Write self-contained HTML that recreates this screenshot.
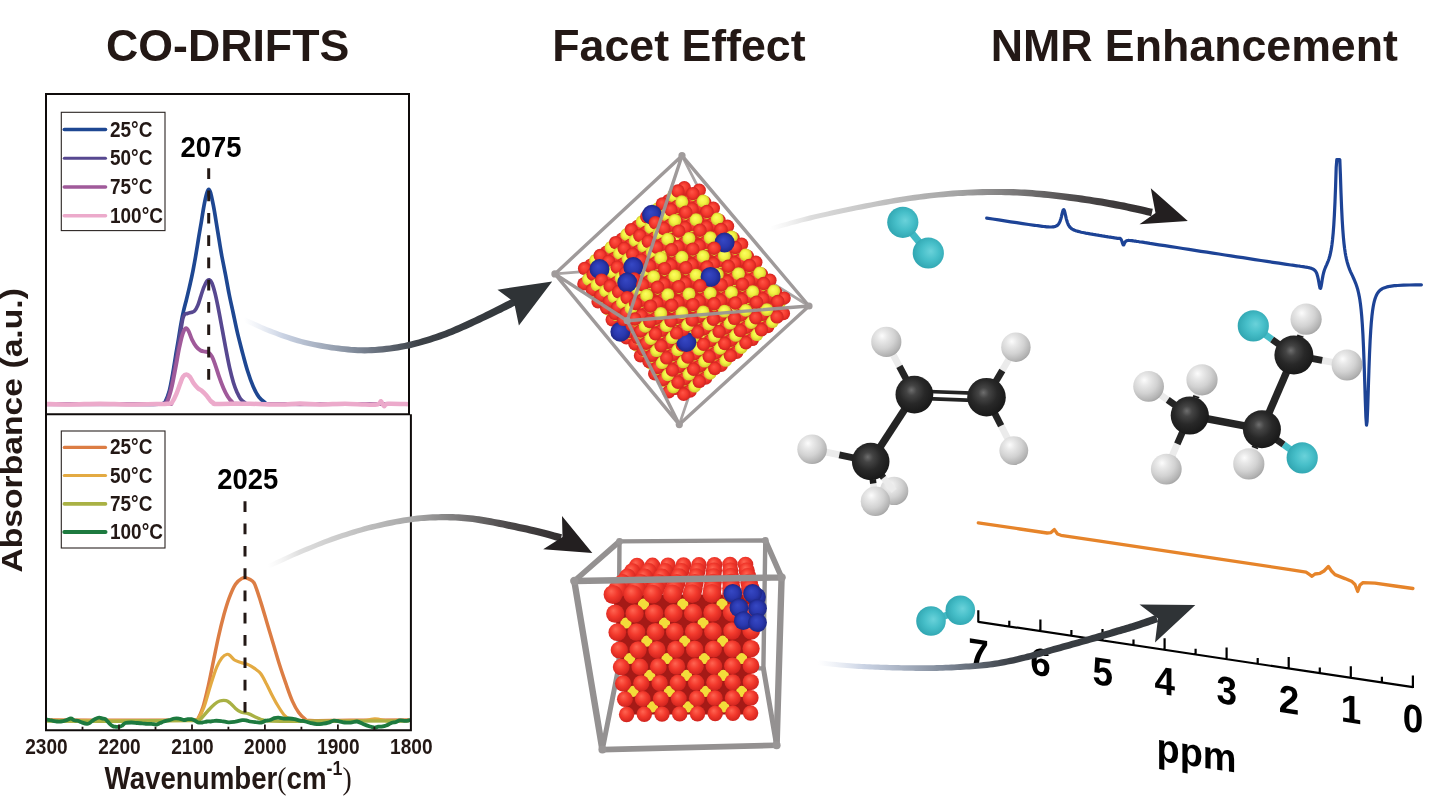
<!DOCTYPE html>
<html lang="en"><head><meta charset="utf-8"><title>CO-DRIFTS / Facet Effect / NMR Enhancement</title>
<style>html,body{margin:0;padding:0;background:#fff;overflow:hidden}svg{display:block}text{font-family:"Liberation Sans",sans-serif;font-weight:bold;fill:#231815}.sf{font-family:"Liberation Serif",serif}</style></head>
<body>
<svg width="1430" height="807" viewBox="0 0 1430 807">
<defs>
<linearGradient id="ga1" gradientUnits="userSpaceOnUse" x1="244" y1="319.5" x2="552.2" y2="281.4"><stop offset="0" stop-color="#d4dcec" stop-opacity="0"/><stop offset="0.12" stop-color="#c3cde0" stop-opacity="0.9"/><stop offset="0.35" stop-color="#7d8796" stop-opacity="1"/><stop offset="0.55" stop-color="#3c4147" stop-opacity="1"/><stop offset="1" stop-color="#2f3336" stop-opacity="1"/></linearGradient>
<linearGradient id="ga2" gradientUnits="userSpaceOnUse" x1="769.6" y1="229" x2="1187.8" y2="221"><stop offset="0" stop-color="#e9e9e9" stop-opacity="0"/><stop offset="0.1" stop-color="#dcdcdc" stop-opacity="1"/><stop offset="0.45" stop-color="#a4a4a4" stop-opacity="1"/><stop offset="0.75" stop-color="#4a4748" stop-opacity="1"/><stop offset="1" stop-color="#231f20" stop-opacity="1"/></linearGradient>
<linearGradient id="ga3" gradientUnits="userSpaceOnUse" x1="267.6" y1="566.8" x2="592.3" y2="553"><stop offset="0" stop-color="#ededed" stop-opacity="0"/><stop offset="0.1" stop-color="#dedede" stop-opacity="1"/><stop offset="0.45" stop-color="#a8a8a8" stop-opacity="1"/><stop offset="0.75" stop-color="#4a4748" stop-opacity="1"/><stop offset="1" stop-color="#231f20" stop-opacity="1"/></linearGradient>
<linearGradient id="ga4" gradientUnits="userSpaceOnUse" x1="818" y1="662.8" x2="1195.3" y2="605"><stop offset="0" stop-color="#d4dcec" stop-opacity="0"/><stop offset="0.12" stop-color="#c3cde0" stop-opacity="0.9"/><stop offset="0.33" stop-color="#7d8796" stop-opacity="1"/><stop offset="0.5" stop-color="#3c4147" stop-opacity="1"/><stop offset="1" stop-color="#2f3336" stop-opacity="1"/></linearGradient>
<radialGradient id="gR" cx="0.5" cy="0.5" r="0.5" fx="0.42" fy="0.36"><stop offset="0" stop-color="#ff5546"/><stop offset="0.6" stop-color="#f3372c"/><stop offset="1" stop-color="#d0231f"/></radialGradient>
<radialGradient id="gY" cx="0.5" cy="0.5" r="0.5" fx="0.42" fy="0.36"><stop offset="0" stop-color="#fbff62"/><stop offset="0.6" stop-color="#f2f140"/><stop offset="1" stop-color="#cfc72c"/></radialGradient>
<radialGradient id="gB" cx="0.5" cy="0.5" r="0.5" fx="0.42" fy="0.36"><stop offset="0" stop-color="#3648c4"/><stop offset="0.6" stop-color="#2a38ae"/><stop offset="1" stop-color="#1d2788"/></radialGradient>
<circle id="aR" r="6.7" fill="url(#gR)"/><circle id="aY" r="6.4" fill="url(#gY)"/><circle id="aB" r="10" fill="url(#gB)"/>
<radialGradient id="gR2" cx="0.46" cy="0.42" r="0.6" fx="0.4" fy="0.32"><stop offset="0" stop-color="#ff6552"/><stop offset="0.5" stop-color="#f33a2d"/><stop offset="1" stop-color="#cf221d"/></radialGradient>
<circle id="cR" r="10" fill="url(#gR2)"/><circle id="cB" r="9.4" fill="url(#gB)"/>
<radialGradient id="gC" cx="0.45" cy="0.42" r="0.62" fx="0.42" fy="0.38"><stop offset="0" stop-color="#6e6e6e"/><stop offset="0.22" stop-color="#444444"/><stop offset="0.55" stop-color="#282828"/><stop offset="1" stop-color="#161616"/></radialGradient>
<radialGradient id="gH" cx="0.38" cy="0.34" r="0.75" fx="0.36" fy="0.3"><stop offset="0" stop-color="#fcfcfc"/><stop offset="0.22" stop-color="#e9e9e9"/><stop offset="0.55" stop-color="#d2d2d2"/><stop offset="0.85" stop-color="#b2b2b2"/><stop offset="1" stop-color="#989898"/></radialGradient>
<radialGradient id="gT" cx="0.54" cy="0.48" r="0.62" fx="0.58" fy="0.44"><stop offset="0" stop-color="#6ad2da"/><stop offset="0.45" stop-color="#47bfc9"/><stop offset="1" stop-color="#2a9fab"/></radialGradient>
</defs>
<rect width="1430" height="807" fill="#fff"/>
<g id="plots">
<path d="M46 404.2C55 404.2 82.7 404 100 404C117.3 404 140 404.3 150 404.3C160 404.3 157.8 404.2 160 404.1C162.2 404 162.2 403.7 163 403.4C163.8 403.1 163.9 404.4 165 402.3C166.1 400.2 168 395.8 169.3 391C170.6 386.2 171.7 379.5 172.7 373.8C173.7 368.1 174.6 362.4 175.5 356.7C176.4 351 177.5 345.3 178.4 339.6C179.3 333.9 180.3 327.2 181.2 322.5C182 317.8 182.6 314.9 183.5 311.1C184.4 307.3 185.3 304 186.4 299.7C187.5 295.4 188.7 290.2 189.8 285.5C190.9 280.8 192 275.9 192.9 271.2C193.8 266.4 194.6 262.2 195.5 257C196.4 251.8 197.4 245.6 198.3 239.9C199.2 234.2 200.2 228.5 201.2 222.8C202.1 217.1 203.1 210.6 204 205.7C204.9 200.8 205.9 196.2 206.7 193.5C207.5 190.8 207.9 189.5 208.6 189.4C209.2 189.3 209.8 190.1 210.6 192.8C211.4 195.5 212.4 200.7 213.4 205.7C214.4 210.7 215.4 217.1 216.3 222.8C217.2 228.5 218.2 234.2 219.1 239.9C220 245.6 220.9 251.3 222 257C223.1 262.7 224.2 267.9 225.4 274.1C226.6 280.3 227.8 287.4 229.1 294C230.4 300.6 232 307.4 233.4 314C234.8 320.6 236.1 327.2 237.7 333.9C239.3 340.5 241.2 347.7 242.8 353.9C244.5 360.1 245.8 365.5 247.6 371C249.3 376.5 251.4 382.3 253.3 386.7C255.2 391.1 257.1 394.6 259 397.2C260.9 399.8 263 401.2 264.7 402.3C266.4 403.4 263.1 403.5 269 403.8C274.9 404.1 286.5 404.2 300 404.2C313.5 404.2 331.8 403.8 350 403.8C368.2 403.8 399.2 404.1 409 404.1" fill="none" stroke="#1e4792" stroke-width="3.7" stroke-linejoin="round" stroke-linecap="butt"/>
<path d="M46 404.2C65 404.2 140.4 404.2 160 404.1C179.6 404 162.5 403.7 163.5 403.4C164.5 403.1 164.6 404.9 165.8 402.3C167 399.8 169.3 393.8 170.7 388.1C172.1 382.4 173.2 374.8 174.4 368.1C175.6 361.5 176.8 354.4 177.8 348.2C178.9 342 179.8 336.1 180.7 331.1C181.5 326.1 182.2 321.1 182.9 318.3C183.6 315.5 184.1 315 184.9 314.2C185.7 313.4 186.6 313.7 187.5 313.4C188.4 313.1 189.4 313 190.6 312.6C191.8 312.2 193.3 312.2 194.5 311C195.7 309.8 196.8 307.8 197.8 305.4C198.8 303 199.6 300 200.6 296.9C201.6 293.8 202.9 289.5 204 286.9C205.1 284.3 206 282.4 206.9 281.2C207.8 280 208.3 279.5 209.2 279.8C210 280.1 211.1 281.1 212 283.2C212.9 285.3 213.8 288.4 214.9 292.6C216 296.8 217.1 302.4 218.3 308.3C219.5 314.2 220.8 321.6 222 328.2C223.2 334.8 224.4 341.5 225.7 348.2C227 354.9 228.4 362.4 229.7 368.1C231 373.8 232.2 378.3 233.4 382.4C234.6 386.4 235.9 389.6 237.1 392.4C238.3 395.1 239.2 397.2 240.5 398.9C241.8 400.6 243.4 401.8 244.8 402.6C246.2 403.4 239.8 403.6 249 403.9C258.2 404.2 273.3 404.2 300 404.2C326.7 404.2 390.8 404.1 409 404.1" fill="none" stroke="#574890" stroke-width="3.7" stroke-linejoin="round" stroke-linecap="butt"/>
<path d="M46 404.2C65.3 404.2 142.2 404.2 162 404.1C181.8 404 164.2 403.7 165 403.4C165.8 403.1 165.9 404.9 167 402.3C168.1 399.8 170.1 393.8 171.5 388.1C172.9 382.4 174.2 374.8 175.5 368.1C176.8 361.5 178 353.9 179.2 348.2C180.4 342.5 181.6 337.2 182.7 333.9C183.8 330.6 184.8 328.7 185.8 328.2C186.8 327.7 187.6 329.2 188.6 331.1C189.6 333 190.7 337 192 339.6C193.3 342.2 194.9 345 196.3 346.8C197.7 348.6 199.2 349.7 200.6 350.5C202 351.3 203.6 351.3 204.9 351.6C206.2 351.9 207.4 351.6 208.6 352.5C209.8 353.4 210.9 354.6 212 356.7C213.1 358.8 214.2 362 215.4 365.3C216.6 368.6 217.8 372.9 219.1 376.7C220.4 380.5 222 384.8 223.4 388.1C224.8 391.4 226.3 394.3 227.7 396.6C229.1 398.9 230.6 400.6 232 401.8C233.4 403 224.7 403.4 236 403.8C247.3 404.2 271.2 404.1 300 404.2C328.8 404.2 390.8 404.1 409 404.1" fill="none" stroke="#a05a9a" stroke-width="3.9" stroke-linejoin="round" stroke-linecap="butt"/>
<path d="M46 403.9C50 404 61 404.4 70 404.4C79 404.4 90 403.7 100 403.7C110 403.7 119.2 404.5 130 404.5C140.8 404.5 158.4 404 165 403.9C171.6 403.8 168.3 403.9 169.5 403.6C170.7 403.3 170.9 403.9 172.1 402.3C173.2 400.7 175.1 396.9 176.4 393.8C177.7 390.7 179 386.7 180.1 383.8C181.2 380.9 181.9 378.3 183 376.7C184.1 375.1 185.3 374.4 186.4 374.4C187.5 374.4 188.6 375.3 189.8 376.7C191 378.1 192.2 381.1 193.5 383C194.8 384.9 196.4 386.8 197.8 388.1C199.2 389.4 200.6 389.8 202 391C203.4 392.2 204.9 393.6 206.3 395.2C207.7 396.8 209.4 399.6 210.6 400.9C211.8 402.2 212.3 402.4 213.4 402.9C214.5 403.4 210.9 403.8 217 403.9C223.1 404 239.5 403.7 250 403.8C260.5 403.9 271.7 404.7 280 404.6C288.3 404.6 293.3 403.5 300 403.5C306.7 403.5 312.5 404.4 320 404.4C327.5 404.4 337.5 403.7 345 403.7C352.5 403.7 359.5 404.5 365 404.6C370.5 404.7 375.3 404.8 378 404.2C380.7 403.6 380 400.9 381 401.2C382 401.5 382.8 405.8 384 406.2C385.2 406.6 383.8 404 388 403.7C392.2 403.4 405.5 404.1 409 404.2" fill="none" stroke="#ecaacb" stroke-width="4.5" stroke-linejoin="round" stroke-linecap="butt"/>
<path d="M46 720C58.3 720 96 720.3 120 720.3C144 720.3 177.5 720.2 190 720.2C202.5 720.2 193.7 720.1 195 720C196.3 719.9 196.3 721.7 197.6 719.6C198.9 717.5 201.1 713 202.9 707.4C204.7 701.8 206.4 694 208.2 686.3C209.9 678.6 211.7 669.5 213.4 661.1C215.2 652.7 216.9 643.5 218.7 635.8C220.4 628.1 222.2 621 223.9 614.7C225.7 608.4 227.3 603 229.2 597.9C231.1 592.8 233.4 587.4 235.5 584.2C237.6 581 240 579.5 241.8 578.5C243.6 577.5 244.7 577.7 246.1 577.9C247.5 578.1 248.6 578.5 250 579.5C251.4 580.5 252.7 580 254.5 583.8C256.3 587.6 258.7 595.5 260.8 602.1C262.9 608.7 265 616.2 267.1 623.2C269.2 630.2 271.3 637.2 273.4 644.2C275.5 651.2 277.6 658.6 279.7 665.3C281.8 672 284 678.2 286.1 684.2C288.2 690.2 290.3 696.4 292.4 701.1C294.5 705.8 296.6 709.6 298.7 712.6C300.8 715.6 303.1 717.6 305 718.9C306.9 720.2 302.5 720.4 310 720.6C317.5 720.8 333.5 720.4 350 720.3C366.5 720.2 399.2 720 409 720" fill="none" stroke="#dc7d44" stroke-width="3.5" stroke-linejoin="round"/>
<path d="M46 720.3C58.3 720.3 96 720.6 120 720.6C144 720.6 177.5 720.5 190 720.4C202.5 720.3 193.7 720.3 195 720.2C196.3 720.1 196.1 721.9 197.6 719.8C199.1 717.7 201.8 713 203.9 707.4C206 701.8 208.2 693 210.3 686.3C212.4 679.6 214.7 672.1 216.6 667.4C218.5 662.7 220.1 660.1 221.8 657.9C223.6 655.7 225.7 654.6 227.1 654.3C228.5 653.9 229.1 654.8 230.3 655.8C231.5 656.8 232.8 658.9 234.5 660C236.2 661.1 238.5 661.7 240.8 662.5C243.1 663.3 245.9 663.6 248.2 664.6C250.5 665.6 252.4 666.9 254.5 668.4C256.6 669.9 258.9 671.2 260.8 673.7C262.7 676.2 264.4 679.9 266.1 683.2C267.9 686.5 269.4 690 271.3 693.7C273.2 697.4 275.5 701.8 277.6 705.3C279.7 708.8 281.8 712.3 283.9 714.7C286 717.1 288.3 718.6 290.3 719.6C292.3 720.6 284.4 720.8 296 721C307.6 721.2 346.8 721.2 360 720.8C373.2 720.4 370 718.7 375 718.8C380 718.9 384.3 720.9 390 721.2C395.7 721.5 405.8 720.6 409 720.5" fill="none" stroke="#e3aa42" stroke-width="3.2" stroke-linejoin="round"/>
<path d="M46 721C55 721.1 82.7 721.4 100 721.4C117.3 721.4 134.7 720.9 150 720.8C165.3 720.7 184.2 720.7 192 720.6C199.8 720.5 195.5 720.5 197 720.2C198.5 719.9 198.9 720.5 200.8 718.9C202.7 717.3 205.9 713 208.2 710.5C210.5 708 212.6 705.8 214.5 704.2C216.4 702.6 217.8 701.6 219.7 701C221.6 700.4 224.3 700.2 226.1 700.6C227.9 701 228.7 701.9 230.3 703.2C231.9 704.5 233.8 706.9 235.5 708.4C237.2 709.9 238.7 711.1 240.8 712C242.9 712.9 245.6 712.8 248.2 713.7C250.8 714.6 254.2 716.5 256.6 717.5C259.1 718.5 260.7 719.4 262.9 720C265.1 720.6 263.8 720.8 270 721C276.2 721.2 276.8 721.2 300 721.2C323.2 721.2 390.8 721 409 720.9" fill="none" stroke="#a9b144" stroke-width="3.4" stroke-linejoin="round"/>
<path d="M46.2 719.2C46.8 719.4 48.5 719.9 49.6 720.2C50.7 720.4 51.8 720.6 53 720.8C54.2 721 55.6 721.4 56.9 721.5C58.2 721.6 59.3 721.7 60.8 721.5C62.3 721.3 64.1 720.9 65.8 720.4C67.5 719.9 69.4 718.5 70.8 718.5C72.2 718.5 73.1 719.9 74.2 720.3C75.4 720.7 76.4 720.4 77.7 720.8C79 721.2 80.8 722.1 82.3 722.6C83.8 723.1 85.8 723.7 86.9 723.8C88.1 723.9 88.4 723.6 89.2 723.2C90 722.9 90.5 722.2 91.5 721.5C92.5 720.8 94.1 719.6 95.3 718.9C96.6 718.3 98 717.8 99.2 717.7C100.4 717.6 101.3 718.2 102.3 718.4C103.3 718.7 104.2 718.4 105.4 719.2C106.6 720 107.9 722.2 109.2 723.3C110.5 724.5 111.8 725.6 113 726.2C114.2 726.8 115.1 726.6 116.1 726.8C117.1 726.9 118.2 727.1 119.2 726.9C120.2 726.7 121.3 726.2 122.3 725.5C123.3 724.9 123.9 723.5 125.4 723C126.9 722.5 129.5 722.5 131.6 722.5C133.6 722.5 135.9 722.9 137.7 723C139.5 723.1 140.8 723.2 142.3 723.4C143.8 723.5 145.4 723.7 146.9 723.8C148.4 723.9 150 723.7 151.6 723.8C153.1 724 154.8 724.7 156.2 724.6C157.6 724.5 158.7 723.6 160 723.1C161.3 722.6 162.3 722 163.8 721.5C165.3 721 167.4 720.6 169.2 720.1C171 719.6 172.9 718.8 174.6 718.5C176.3 718.2 177.7 718.3 179.2 718.6C180.7 718.8 182.4 719.9 183.8 720C185.2 720.1 186.4 719.3 187.7 719.2C188.9 719.1 190.3 719 191.5 719.2C192.7 719.4 193.6 719.9 194.6 720.4C195.6 721 196.4 722 197.7 722.3C199 722.6 200.8 722.6 202.3 722.5C203.8 722.3 205.5 721.7 206.9 721.5C208.3 721.3 209.5 721.6 210.8 721.5C212 721.4 212.8 720.9 214.6 720.8C216.4 720.7 219.2 720.8 221.6 721.1C223.9 721.3 226.2 722.2 228.5 722.3C230.8 722.4 233.1 722 235.4 721.7C237.7 721.3 240.5 720.4 242.3 720.2C244.1 720 244.9 720.1 246.2 720.3C247.4 720.6 248.4 721.2 250 721.5C251.6 721.8 253.8 722 255.8 722.2C257.7 722.3 259.8 722.7 261.5 722.5C263.2 722.3 264.3 721.1 265.8 720.7C267.2 720.3 268.6 720.4 270 720C271.4 719.6 272.8 718.5 274.2 718.1C275.7 717.7 276.9 717.5 278.5 717.6C280.1 717.7 282.1 718.4 283.9 718.6C285.6 718.7 287.4 718.4 289.2 718.5C291 718.6 292.8 718.8 294.6 719.1C296.4 719.5 298.2 720.2 300 720.6C301.8 721 303.6 721 305.4 721.5C307.2 721.9 308.9 722.7 310.8 723.1C312.7 723.5 314.9 724 316.9 724.1C318.9 724.2 321.1 723.9 323 723.7C324.9 723.5 326.6 723.2 328.4 722.7C330.2 722.2 332 720.8 333.8 720.6C335.6 720.4 337.4 720.9 339.2 721.3C341 721.6 342.7 722.3 344.6 722.5C346.5 722.7 348.7 722.8 350.8 722.6C352.9 722.5 354.9 721.3 357 721.5C359.1 721.7 361.1 723.1 363.1 723.9C365.1 724.7 367.7 725.7 369.2 726.2C370.7 726.7 371.1 726.9 372.1 727.1C373.1 727.4 374 727.7 375 727.6C376 727.5 377.2 726.9 378.2 726.7C379.3 726.5 380.2 726.8 381.5 726.6C382.8 726.4 384.6 726.1 386.1 725.5C387.7 725 389.3 723.8 390.8 723.2C392.3 722.6 393.9 722.5 395.4 722.1C396.9 721.6 398.4 720.6 400 720.4C401.6 720.2 403.5 720.9 405.2 720.9C407 720.8 409.6 720.1 410.5 720" fill="none" stroke="#1d7a3f" stroke-width="3.8" stroke-linejoin="round"/>
<path d="M208.7 168.3V380.2" stroke="#231815" stroke-width="3" stroke-dasharray="10.7 11.6" fill="none"/>
<path d="M245 501.3V712.6" stroke="#231815" stroke-width="3" stroke-dasharray="10.7 11.6" fill="none"/>
<text x="211" y="156.9" font-size="28.8" text-anchor="middle" textLength="61" lengthAdjust="spacingAndGlyphs" style="fill:#000">2075</text>
<text x="247.8" y="489" font-size="28.8" text-anchor="middle" textLength="61" lengthAdjust="spacingAndGlyphs" style="fill:#000">2025</text>
<path d="M46 94H409V414.2H46ZM46 414.2V730.2H410.9V414.2" fill="none" stroke="#0f0b0a" stroke-width="2"/>
<path d="M82.5 730.2v-3.4M119 730.2v-5.6M155.5 730.2v-3.4M192 730.2v-5.6M228.4 730.2v-3.4M264.9 730.2v-5.6M301.4 730.2v-3.4M337.9 730.2v-5.6M374.4 730.2v-3.4" stroke="#231815" stroke-width="1.8" fill="none"/>
<text x="46.4" y="753.8" font-size="21.2" text-anchor="middle" textLength="42.5" lengthAdjust="spacingAndGlyphs">2300</text>
<text x="119.4" y="753.8" font-size="21.2" text-anchor="middle" textLength="42.5" lengthAdjust="spacingAndGlyphs">2200</text>
<text x="192.4" y="753.8" font-size="21.2" text-anchor="middle" textLength="42.5" lengthAdjust="spacingAndGlyphs">2100</text>
<text x="265.3" y="753.8" font-size="21.2" text-anchor="middle" textLength="42.5" lengthAdjust="spacingAndGlyphs">2000</text>
<text x="338.3" y="753.8" font-size="21.2" text-anchor="middle" textLength="42.5" lengthAdjust="spacingAndGlyphs">1900</text>
<text x="411.3" y="753.8" font-size="21.2" text-anchor="middle" textLength="42.5" lengthAdjust="spacingAndGlyphs">1800</text>
<text x="104.6" y="789.2" font-size="31.2" textLength="247" lengthAdjust="spacingAndGlyphs">Wavenumber<tspan font-weight="normal" class="sf">(</tspan>cm<tspan font-size="20" dy="-14">-1</tspan><tspan font-weight="normal" class="sf" dy="14">)</tspan></text>
<text transform="translate(21.9,572.6) rotate(-90)" font-size="29.7" textLength="284.5" lengthAdjust="spacingAndGlyphs">Absorbance (a.u.)</text>
<rect x="61.3" y="112.3" width="103.7" height="118.3" fill="#fff" stroke="#2a2422" stroke-width="1.1"/>
<path d="M64.3 129.5H105.5" stroke="#1e4792" stroke-width="3.6" stroke-linecap="round" fill="none"/>
<text x="110" y="136.5" font-size="21.4" textLength="42.4" lengthAdjust="spacingAndGlyphs">25°C</text>
<path d="M64.3 158.3H105.5" stroke="#574890" stroke-width="3" stroke-linecap="round" fill="none"/>
<text x="110" y="165.3" font-size="21.4" textLength="42.4" lengthAdjust="spacingAndGlyphs">50°C</text>
<path d="M64.3 187H105.5" stroke="#a05a9a" stroke-width="3.6" stroke-linecap="round" fill="none"/>
<text x="110" y="194" font-size="21.4" textLength="42.4" lengthAdjust="spacingAndGlyphs">75°C</text>
<path d="M64.3 215.8H105.5" stroke="#ecaacb" stroke-width="3.6" stroke-linecap="round" fill="none"/>
<text x="110" y="222.8" font-size="21.4" textLength="53" lengthAdjust="spacingAndGlyphs">100°C</text>
<rect x="61.3" y="431" width="103.7" height="117" fill="#fff" stroke="#2a2422" stroke-width="1.1"/>
<path d="M64.3 447.4H105.5" stroke="#dc7d44" stroke-width="3.2" stroke-linecap="round" fill="none"/>
<text x="110" y="454.4" font-size="21.4" textLength="42.4" lengthAdjust="spacingAndGlyphs">25°C</text>
<path d="M64.3 475.5H105.5" stroke="#e3aa42" stroke-width="3.2" stroke-linecap="round" fill="none"/>
<text x="110" y="482.5" font-size="21.4" textLength="42.4" lengthAdjust="spacingAndGlyphs">50°C</text>
<path d="M64.3 503.9H105.5" stroke="#a9b144" stroke-width="3.6" stroke-linecap="round" fill="none"/>
<text x="110" y="510.9" font-size="21.4" textLength="42.4" lengthAdjust="spacingAndGlyphs">75°C</text>
<path d="M64.3 532H105.5" stroke="#1d7a3f" stroke-width="4" stroke-linecap="round" fill="none"/>
<text x="110" y="539" font-size="21.4" textLength="53" lengthAdjust="spacingAndGlyphs">100°C</text>
</g>
<g id="octa">
<path d="M682 155.7L735 259.6M554.9 273.9L735 259.6M809 306L735 259.6M679.3 424.6L735 259.6" stroke="#a9a4a4" stroke-width="2.8" fill="none" stroke-linecap="round"/>
<path d="M688.6 189.1L782.1 307.8L679.4 392.9L585.9 274.2Z" fill="#d92a20"/>
<use href="#aR" x="611.5" y="279.8"/>
<use href="#aR" x="625.6" y="297.8"/>
<use href="#aR" x="612.2" y="264.3"/>
<use href="#aR" x="639.8" y="315.7"/>
<use href="#aR" x="626.3" y="282.3"/>
<use href="#aR" x="653.9" y="333.7"/>
<use href="#aY" x="601.2" y="272.4"/>
<use href="#aR" x="640.5" y="300.3"/>
<use href="#aR" x="668.1" y="351.7"/>
<use href="#aY" x="615.4" y="290.4"/>
<use href="#aR" x="590.3" y="280.5"/>
<use href="#aR" x="627" y="266.9"/>
<use href="#aR" x="654.6" y="318.3"/>
<use href="#aR" x="682.3" y="369.7"/>
<use href="#aY" x="629.5" y="308.4"/>
<use href="#aR" x="604.4" y="298.5"/>
<use href="#aR" x="641.2" y="284.9"/>
<use href="#aR" x="668.8" y="336.3"/>
<use href="#aY" x="643.7" y="326.4"/>
<use href="#aR" x="591" y="265.1"/>
<use href="#aR" x="618.6" y="316.5"/>
<use href="#aR" x="627.7" y="251.4"/>
<use href="#aR" x="655.3" y="302.8"/>
<use href="#aR" x="683" y="354.2"/>
<use href="#aY" x="657.8" y="344.4"/>
<use href="#aR" x="605.1" y="283.1"/>
<use href="#aR" x="632.7" y="334.5"/>
<use href="#aR" x="641.9" y="269.4"/>
<use href="#aR" x="669.5" y="320.8"/>
<use href="#aY" x="616.8" y="259.5"/>
<use href="#aR" x="697.1" y="372.2"/>
<use href="#aY" x="672" y="362.4"/>
<use href="#aR" x="619.3" y="301.1"/>
<use href="#aR" x="646.9" y="352.5"/>
<use href="#aY" x="594.2" y="291.2"/>
<use href="#aR" x="683.7" y="338.8"/>
<use href="#aY" x="630.9" y="277.5"/>
<use href="#aR" x="605.8" y="267.6"/>
<use href="#aY" x="686.2" y="380.3"/>
<use href="#aR" x="633.4" y="319.1"/>
<use href="#aR" x="661" y="370.5"/>
<use href="#aY" x="608.3" y="309.2"/>
<use href="#aR" x="642.6" y="254"/>
<use href="#aR" x="697.8" y="356.8"/>
<use href="#aY" x="645.1" y="295.5"/>
<use href="#aR" x="620" y="285.6"/>
<use href="#aR" x="647.6" y="337"/>
<use href="#aR" x="675.2" y="388.4"/>
<use href="#aY" x="622.5" y="327.2"/>
<use href="#aY" x="659.2" y="313.5"/>
<use href="#aR" x="606.5" y="252.2"/>
<use href="#aR" x="634.1" y="303.6"/>
<use href="#aR" x="661.7" y="355"/>
<use href="#aY" x="636.6" y="345.1"/>
<use href="#aR" x="583.9" y="283.9"/>
<use href="#aR" x="643.3" y="238.5"/>
<use href="#aR" x="698.5" y="341.3"/>
<use href="#aY" x="673.4" y="331.5"/>
<use href="#aR" x="620.7" y="270.2"/>
<use href="#aR" x="648.3" y="321.6"/>
<use href="#aY" x="595.6" y="260.3"/>
<use href="#aR" x="675.9" y="373"/>
<use href="#aY" x="650.8" y="363.1"/>
<use href="#aR" x="598.1" y="301.8"/>
<use href="#aR" x="657.4" y="256.5"/>
<use href="#aY" x="632.3" y="246.6"/>
<use href="#aR" x="712.7" y="359.3"/>
<use href="#aY" x="687.6" y="349.5"/>
<use href="#aR" x="662.4" y="339.6"/>
<use href="#aY" x="609.7" y="278.3"/>
<use href="#aR" x="690.1" y="391"/>
<use href="#aR" x="584.6" y="268.4"/>
<use href="#aY" x="664.9" y="381.1"/>
<use href="#aR" x="612.2" y="319.8"/>
<use href="#aY" x="646.5" y="264.6"/>
<use href="#aR" x="621.4" y="254.7"/>
<use href="#aY" x="701.7" y="367.4"/>
<use href="#aR" x="676.6" y="357.6"/>
<use href="#aY" x="623.9" y="296.3"/>
<use href="#aR" x="598.8" y="286.4"/>
<use href="#aR" x="626.4" y="337.8"/>
<use href="#aR" x="658.1" y="241.1"/>
<use href="#aR" x="713.4" y="343.9"/>
<use href="#aR" x="690.8" y="375.5"/>
<use href="#aY" x="638" y="314.3"/>
<use href="#aR" x="612.9" y="304.4"/>
<use href="#aR" x="640.5" y="355.8"/>
<use href="#aR" x="622.1" y="239.3"/>
<use href="#aY" x="652.2" y="332.2"/>
<use href="#aR" x="599.5" y="270.9"/>
<use href="#aR" x="627.1" y="322.4"/>
<use href="#aR" x="654.7" y="373.8"/>
<use href="#aR" x="658.8" y="225.6"/>
<use href="#aR" x="714.1" y="328.4"/>
<use href="#aR" x="636.2" y="257.3"/>
<use href="#aY" x="611.1" y="247.4"/>
<use href="#aR" x="691.5" y="360.1"/>
<use href="#aY" x="666.3" y="350.2"/>
<use href="#aR" x="613.6" y="288.9"/>
<use href="#aR" x="641.2" y="340.4"/>
<use href="#aY" x="588.5" y="279.1"/>
<use href="#aR" x="668.8" y="391.8"/>
<use href="#aR" x="673" y="243.6"/>
<use href="#aY" x="647.9" y="233.7"/>
<use href="#aR" x="728.2" y="346.4"/>
<use href="#aY" x="703.1" y="336.6"/>
<use href="#aY" x="625.3" y="265.4"/>
<use href="#aR" x="705.6" y="378.1"/>
<use href="#aR" x="600.2" y="255.5"/>
<use href="#aY" x="680.5" y="368.2"/>
<use href="#aR" x="627.8" y="306.9"/>
<use href="#aR" x="655.4" y="358.3"/>
<use href="#aY" x="602.7" y="297"/>
<use href="#aY" x="662" y="251.7"/>
<use href="#aR" x="636.9" y="241.8"/>
<use href="#aY" x="717.3" y="354.5"/>
<use href="#aR" x="614.3" y="273.5"/>
<use href="#aY" x="694.7" y="386.2"/>
<use href="#aR" x="641.9" y="324.9"/>
<use href="#aR" x="669.5" y="376.3"/>
<use href="#aY" x="616.8" y="315"/>
<use href="#aR" x="673.7" y="228.2"/>
<use href="#aR" x="728.9" y="331"/>
<use href="#aR" x="706.3" y="362.6"/>
<use href="#aR" x="656.1" y="342.9"/>
<use href="#aR" x="683.7" y="394.3"/>
<use href="#aY" x="631" y="333"/>
<use href="#aR" x="637.6" y="226.4"/>
<use href="#aR" x="615" y="258.1"/>
<use href="#aR" x="670.2" y="360.9"/>
<use href="#aY" x="645.1" y="351"/>
<use href="#aR" x="592.4" y="289.7"/>
<use href="#aR" x="674.4" y="212.7"/>
<use href="#aR" x="729.6" y="315.6"/>
<use href="#aR" x="651.8" y="244.4"/>
<use href="#aY" x="626.7" y="234.5"/>
<use href="#aR" x="707" y="347.2"/>
<use href="#aY" x="604.1" y="266.2"/>
<use href="#aR" x="684.4" y="378.9"/>
<use href="#aY" x="659.3" y="369"/>
<use href="#aR" x="606.6" y="307.7"/>
<use href="#aR" x="688.6" y="230.7"/>
<use href="#aY" x="663.4" y="220.8"/>
<use href="#aR" x="743.8" y="333.5"/>
<use href="#aY" x="718.7" y="323.7"/>
<use href="#aY" x="640.8" y="252.5"/>
<use href="#aR" x="721.2" y="365.2"/>
<use href="#aR" x="615.7" y="242.6"/>
<use href="#aY" x="696.1" y="355.3"/>
<use href="#aY" x="618.2" y="284.1"/>
<use href="#aR" x="593.1" y="274.3"/>
<use href="#aY" x="673.4" y="387"/>
<use href="#aR" x="620.7" y="325.7"/>
<use href="#aY" x="677.6" y="238.8"/>
<use href="#aR" x="652.5" y="228.9"/>
<use href="#aY" x="732.8" y="341.6"/>
<use href="#aR" x="629.9" y="260.6"/>
<use href="#aY" x="710.2" y="373.3"/>
<use href="#aR" x="685.1" y="363.4"/>
<use href="#aY" x="632.4" y="302.1"/>
<use href="#aR" x="607.3" y="292.2"/>
<use href="#aR" x="634.9" y="343.7"/>
<use href="#aR" x="689.3" y="215.3"/>
<use href="#aR" x="744.5" y="318.1"/>
<use href="#aR" x="721.9" y="349.8"/>
<use href="#aR" x="699.3" y="381.4"/>
<use href="#aY" x="646.5" y="320.1"/>
<use href="#aR" x="621.4" y="310.2"/>
<use href="#aR" x="649" y="361.6"/>
<use href="#aR" x="703.4" y="233.2"/>
<use href="#aR" x="653.2" y="213.5"/>
<use href="#aR" x="630.6" y="245.2"/>
<use href="#aY" x="660.7" y="338.1"/>
<use href="#aR" x="608" y="276.8"/>
<use href="#aR" x="635.6" y="328.2"/>
<use href="#aR" x="663.2" y="379.6"/>
<use href="#aR" x="690" y="199.8"/>
<use href="#aR" x="717.6" y="251.2"/>
<use href="#aR" x="745.2" y="302.6"/>
<use href="#aR" x="667.3" y="231.5"/>
<use href="#aY" x="642.2" y="221.6"/>
<use href="#aR" x="722.6" y="334.3"/>
<use href="#aY" x="619.6" y="253.3"/>
<use href="#aR" x="700" y="366"/>
<use href="#aY" x="674.8" y="356.1"/>
<use href="#aR" x="622.1" y="294.8"/>
<use href="#aR" x="649.7" y="346.2"/>
<use href="#aY" x="597" y="284.9"/>
<use href="#aR" x="704.1" y="217.8"/>
<use href="#aR" x="731.7" y="269.2"/>
<use href="#aY" x="679" y="207.9"/>
<use href="#aR" x="759.3" y="320.6"/>
<use href="#aY" x="734.2" y="310.8"/>
<use href="#aY" x="656.4" y="239.6"/>
<use href="#aR" x="736.7" y="352.3"/>
<use href="#aR" x="631.3" y="229.7"/>
<use href="#aY" x="711.6" y="342.4"/>
<use href="#aY" x="633.8" y="271.2"/>
<use href="#aR" x="608.7" y="261.4"/>
<use href="#aY" x="689" y="374.1"/>
<use href="#aR" x="636.3" y="312.8"/>
<use href="#aR" x="663.9" y="364.2"/>
<use href="#aY" x="611.2" y="302.9"/>
<use href="#aR" x="718.3" y="235.8"/>
<use href="#aR" x="745.9" y="287.2"/>
<use href="#aY" x="693.2" y="225.9"/>
<use href="#aR" x="668" y="216"/>
<use href="#aY" x="748.4" y="328.7"/>
<use href="#aR" x="645.4" y="247.7"/>
<use href="#aY" x="725.8" y="360.4"/>
<use href="#aR" x="700.7" y="350.5"/>
<use href="#aR" x="622.8" y="279.4"/>
<use href="#aR" x="650.4" y="330.8"/>
<use href="#aR" x="678" y="382.2"/>
<use href="#aY" x="625.3" y="320.9"/>
<use href="#aR" x="704.8" y="202.4"/>
<use href="#aR" x="732.4" y="253.8"/>
<use href="#aR" x="760" y="305.2"/>
<use href="#aY" x="707.3" y="243.9"/>
<use href="#aR" x="737.4" y="336.9"/>
<use href="#aR" x="714.8" y="368.5"/>
<use href="#aR" x="664.6" y="348.8"/>
<use href="#aY" x="639.5" y="338.9"/>
<use href="#aR" x="719" y="220.3"/>
<use href="#aR" x="746.6" y="271.8"/>
<use href="#aY" x="721.5" y="261.9"/>
<use href="#aR" x="668.7" y="200.6"/>
<use href="#aR" x="646.1" y="232.2"/>
<use href="#aR" x="623.5" y="263.9"/>
<use href="#aR" x="678.7" y="366.7"/>
<use href="#aY" x="653.6" y="356.9"/>
<use href="#aR" x="600.9" y="295.6"/>
<use href="#aR" x="733.1" y="238.3"/>
<use href="#aR" x="760.7" y="289.8"/>
<use href="#aY" x="735.6" y="279.9"/>
<use href="#aR" x="682.9" y="218.6"/>
<use href="#aY" x="657.8" y="208.7"/>
<use href="#aR" x="738.1" y="321.4"/>
<use href="#aY" x="635.2" y="240.4"/>
<use href="#aR" x="715.5" y="353.1"/>
<use href="#aY" x="690.4" y="343.2"/>
<use href="#aY" x="612.6" y="272"/>
<use href="#aY" x="667.8" y="374.8"/>
<use href="#aR" x="615.1" y="313.6"/>
<use href="#aB" x="599.5" y="269"/>
<use href="#aR" x="747.3" y="256.3"/>
<use href="#aY" x="694.6" y="195"/>
<use href="#aR" x="774.9" y="307.7"/>
<use href="#aY" x="749.8" y="297.9"/>
<use href="#aY" x="671.9" y="226.7"/>
<use href="#aR" x="752.3" y="339.4"/>
<use href="#aR" x="646.8" y="216.8"/>
<use href="#aY" x="727.2" y="329.5"/>
<use href="#aY" x="649.3" y="258.3"/>
<use href="#aR" x="624.2" y="248.5"/>
<use href="#aY" x="704.6" y="361.2"/>
<use href="#aR" x="679.4" y="351.3"/>
<use href="#aY" x="626.7" y="290"/>
<use href="#aR" x="601.6" y="280.1"/>
<use href="#aR" x="629.2" y="331.5"/>
<use href="#aR" x="761.4" y="274.3"/>
<use href="#aY" x="708.7" y="213"/>
<use href="#aR" x="683.6" y="203.1"/>
<use href="#aY" x="763.9" y="315.8"/>
<use href="#aR" x="661" y="234.8"/>
<use href="#aY" x="741.3" y="347.5"/>
<use href="#aR" x="716.2" y="337.6"/>
<use href="#aR" x="638.4" y="266.4"/>
<use href="#aR" x="693.6" y="369.3"/>
<use href="#aY" x="640.9" y="308"/>
<use href="#aR" x="615.8" y="298.1"/>
<use href="#aR" x="643.4" y="349.5"/>
<use href="#aR" x="775.6" y="292.3"/>
<use href="#aY" x="722.9" y="231"/>
<use href="#aR" x="697.8" y="221.1"/>
<use href="#aR" x="753" y="323.9"/>
<use href="#aR" x="730.4" y="355.6"/>
<use href="#aY" x="655" y="326"/>
<use href="#aR" x="629.9" y="316.1"/>
<use href="#aR" x="657.5" y="367.5"/>
<use href="#aY" x="737" y="249"/>
<use href="#aR" x="684.3" y="187.7"/>
<use href="#aR" x="711.9" y="239.1"/>
<use href="#aR" x="661.7" y="219.4"/>
<use href="#aR" x="639.1" y="251"/>
<use href="#aR" x="694.3" y="353.8"/>
<use href="#aY" x="669.2" y="344"/>
<use href="#aR" x="616.5" y="282.7"/>
<use href="#aR" x="644.1" y="334.1"/>
<use href="#aY" x="751.2" y="267"/>
<use href="#aR" x="698.5" y="205.7"/>
<use href="#aR" x="726.1" y="257.1"/>
<use href="#aY" x="673.3" y="195.8"/>
<use href="#aR" x="753.7" y="308.5"/>
<use href="#aY" x="650.7" y="227.5"/>
<use href="#aR" x="731.1" y="340.2"/>
<use href="#aY" x="706" y="330.3"/>
<use href="#aY" x="628.1" y="259.1"/>
<use href="#aY" x="683.3" y="361.9"/>
<use href="#aR" x="630.6" y="300.6"/>
<use href="#aR" x="658.2" y="352.1"/>
<use href="#aY" x="605.5" y="290.8"/>
<use href="#aY" x="765.3" y="285"/>
<use href="#aR" x="712.6" y="223.7"/>
<use href="#aR" x="740.2" y="275.1"/>
<use href="#aY" x="687.5" y="213.8"/>
<use href="#aR" x="767.8" y="326.5"/>
<use href="#aR" x="662.4" y="203.9"/>
<use href="#aY" x="742.7" y="316.6"/>
<use href="#aY" x="664.9" y="245.4"/>
<use href="#aR" x="639.8" y="235.6"/>
<use href="#aY" x="720.1" y="348.3"/>
<use href="#aR" x="695" y="338.4"/>
<use href="#aY" x="642.3" y="277.1"/>
<use href="#aR" x="617.2" y="267.2"/>
<use href="#aR" x="644.8" y="318.6"/>
<use href="#aR" x="672.4" y="370"/>
<use href="#aY" x="619.7" y="308.8"/>
<use href="#aR" x="699.2" y="190.2"/>
<use href="#aY" x="779.5" y="302.9"/>
<use href="#aR" x="726.8" y="241.7"/>
<use href="#aR" x="754.4" y="293.1"/>
<use href="#aY" x="701.7" y="231.8"/>
<use href="#aR" x="676.5" y="221.9"/>
<use href="#aY" x="756.9" y="334.6"/>
<use href="#aR" x="731.8" y="324.7"/>
<use href="#aR" x="653.9" y="253.6"/>
<use href="#aR" x="709.2" y="356.4"/>
<use href="#aR" x="631.3" y="285.2"/>
<use href="#aR" x="658.9" y="336.6"/>
<use href="#aY" x="633.8" y="326.7"/>
<use href="#aB" x="620.4" y="331.8"/>
<use href="#aR" x="713.3" y="208.2"/>
<use href="#aR" x="740.9" y="259.6"/>
<use href="#aR" x="768.5" y="311.1"/>
<use href="#aY" x="715.8" y="249.8"/>
<use href="#aR" x="745.9" y="342.7"/>
<use href="#aR" x="673.1" y="354.6"/>
<use href="#aY" x="648" y="344.7"/>
<use href="#aR" x="727.5" y="226.2"/>
<use href="#aR" x="755.1" y="277.6"/>
<use href="#aY" x="730" y="267.7"/>
<use href="#aR" x="677.2" y="206.5"/>
<use href="#aR" x="654.6" y="238.1"/>
<use href="#aR" x="709.9" y="340.9"/>
<use href="#aY" x="684.7" y="331.1"/>
<use href="#aR" x="632" y="269.8"/>
<use href="#aY" x="662.1" y="362.7"/>
<use href="#aR" x="609.4" y="301.4"/>
<use href="#aR" x="741.6" y="244.2"/>
<use href="#aR" x="769.2" y="295.6"/>
<use href="#aY" x="744.1" y="285.7"/>
<use href="#aR" x="691.4" y="224.4"/>
<use href="#aY" x="666.3" y="214.6"/>
<use href="#aR" x="746.6" y="327.3"/>
<use href="#aY" x="721.5" y="317.4"/>
<use href="#aY" x="643.7" y="246.2"/>
<use href="#aY" x="698.9" y="349"/>
<use href="#aR" x="673.8" y="339.2"/>
<use href="#aY" x="621.1" y="277.9"/>
<use href="#aB" x="652" y="214.8"/>
<use href="#aR" x="623.6" y="319.4"/>
<use href="#aR" x="755.8" y="262.2"/>
<use href="#aY" x="703.1" y="200.9"/>
<use href="#aR" x="783.4" y="313.6"/>
<use href="#aR" x="677.9" y="191"/>
<use href="#aY" x="758.3" y="303.7"/>
<use href="#aR" x="705.6" y="242.4"/>
<use href="#aY" x="680.4" y="232.5"/>
<use href="#aR" x="655.3" y="222.7"/>
<use href="#aY" x="735.7" y="335.4"/>
<use href="#aR" x="710.6" y="325.5"/>
<use href="#aY" x="657.8" y="264.2"/>
<use href="#aR" x="632.7" y="254.3"/>
<use href="#aR" x="687.9" y="357.1"/>
<use href="#aY" x="635.2" y="295.9"/>
<use href="#aR" x="610.1" y="286"/>
<use href="#aR" x="637.7" y="337.4"/>
<use href="#aR" x="769.9" y="280.2"/>
<use href="#aY" x="717.2" y="218.9"/>
<use href="#aR" x="692.1" y="209"/>
<use href="#aY" x="772.4" y="321.7"/>
<use href="#aR" x="719.7" y="260.4"/>
<use href="#aR" x="747.3" y="311.8"/>
<use href="#aY" x="694.6" y="250.5"/>
<use href="#aR" x="669.5" y="240.7"/>
<use href="#aR" x="724.7" y="343.5"/>
<use href="#aR" x="646.9" y="272.3"/>
<use href="#aY" x="649.4" y="313.8"/>
<use href="#aR" x="624.3" y="304"/>
<use href="#aR" x="651.9" y="355.4"/>
<use href="#aR" x="784.1" y="298.1"/>
<use href="#aY" x="731.4" y="236.9"/>
<use href="#aR" x="706.3" y="227"/>
<use href="#aR" x="733.9" y="278.4"/>
<use href="#aR" x="761.5" y="329.8"/>
<use href="#aY" x="708.8" y="268.5"/>
<use href="#aR" x="688.6" y="341.7"/>
<use href="#aY" x="663.5" y="331.8"/>
<use href="#aR" x="638.4" y="321.9"/>
<use href="#aY" x="745.5" y="254.8"/>
<use href="#aR" x="692.8" y="193.6"/>
<use href="#aR" x="720.4" y="245"/>
<use href="#aR" x="748" y="296.4"/>
<use href="#aY" x="722.9" y="286.5"/>
<use href="#aR" x="670.2" y="225.2"/>
<use href="#aR" x="725.4" y="328"/>
<use href="#aY" x="700.3" y="318.2"/>
<use href="#aR" x="647.6" y="256.9"/>
<use href="#aY" x="677.7" y="349.8"/>
<use href="#aR" x="625" y="288.5"/>
<use href="#aR" x="652.6" y="339.9"/>
<use href="#aY" x="759.7" y="272.8"/>
<use href="#aR" x="707" y="211.5"/>
<use href="#aR" x="734.6" y="262.9"/>
<use href="#aY" x="681.8" y="201.7"/>
<use href="#aR" x="762.2" y="314.4"/>
<use href="#aY" x="737.1" y="304.5"/>
<use href="#aR" x="684.3" y="243.2"/>
<use href="#aY" x="659.2" y="233.3"/>
<use href="#aY" x="714.5" y="336.1"/>
<use href="#aR" x="689.3" y="326.3"/>
<use href="#aY" x="636.6" y="265"/>
<use href="#aR" x="639.1" y="306.5"/>
<use href="#aR" x="666.7" y="357.9"/>
<use href="#aY" x="614" y="296.6"/>
<use href="#aY" x="773.8" y="290.8"/>
<use href="#aR" x="721.1" y="229.5"/>
<use href="#aR" x="748.7" y="280.9"/>
<use href="#aY" x="696" y="219.6"/>
<use href="#aR" x="670.9" y="209.8"/>
<use href="#aY" x="751.2" y="322.5"/>
<use href="#aR" x="698.5" y="261.2"/>
<use href="#aR" x="726.1" y="312.6"/>
<use href="#aY" x="673.4" y="251.3"/>
<use href="#aR" x="648.3" y="241.4"/>
<use href="#aR" x="703.5" y="344.2"/>
<use href="#aY" x="650.8" y="283"/>
<use href="#aR" x="625.7" y="273.1"/>
<use href="#aR" x="653.3" y="324.5"/>
<use href="#aY" x="628.2" y="314.6"/>
<use href="#aR" x="735.3" y="247.5"/>
<use href="#aR" x="762.9" y="298.9"/>
<use href="#aY" x="710.2" y="237.6"/>
<use href="#aR" x="685" y="227.8"/>
<use href="#aR" x="712.7" y="279.2"/>
<use href="#aR" x="740.3" y="330.6"/>
<use href="#aY" x="687.5" y="269.3"/>
<use href="#aR" x="662.4" y="259.4"/>
<use href="#aR" x="639.8" y="291.1"/>
<use href="#aR" x="667.4" y="342.5"/>
<use href="#aY" x="642.3" y="332.6"/>
<use href="#aR" x="749.4" y="265.5"/>
<use href="#aR" x="777" y="316.9"/>
<use href="#aY" x="724.3" y="255.6"/>
<use href="#aR" x="699.2" y="245.7"/>
<use href="#aR" x="726.8" y="297.1"/>
<use href="#aY" x="701.7" y="287.3"/>
<use href="#aR" x="704.2" y="328.8"/>
<use href="#aY" x="679.1" y="318.9"/>
<use href="#aB" x="724.6" y="242.5"/>
<use href="#aY" x="656.5" y="350.6"/>
<use href="#aR" x="763.6" y="283.5"/>
<use href="#aY" x="738.5" y="273.6"/>
<use href="#aR" x="685.7" y="212.3"/>
<use href="#aR" x="713.4" y="263.7"/>
<use href="#aR" x="741" y="315.1"/>
<use href="#aY" x="715.9" y="305.3"/>
<use href="#aR" x="663.1" y="244"/>
<use href="#aY" x="693.2" y="336.9"/>
<use href="#aR" x="640.5" y="275.6"/>
<use href="#aR" x="668.1" y="327"/>
<use href="#aR" x="617.9" y="307.3"/>
<use href="#aR" x="777.7" y="301.5"/>
<use href="#aY" x="752.6" y="291.6"/>
<use href="#aR" x="699.9" y="230.3"/>
<use href="#aR" x="727.5" y="281.7"/>
<use href="#aY" x="674.8" y="220.4"/>
<use href="#aY" x="730" y="323.2"/>
<use href="#aR" x="677.3" y="261.9"/>
<use href="#aR" x="704.9" y="313.4"/>
<use href="#aY" x="652.2" y="252.1"/>
<use href="#aR" x="682.3" y="345"/>
<use href="#aY" x="629.6" y="283.7"/>
<use href="#aR" x="632.1" y="325.3"/>
<use href="#aY" x="766.8" y="309.6"/>
<use href="#aR" x="714.1" y="248.3"/>
<use href="#aR" x="741.7" y="299.7"/>
<use href="#aY" x="688.9" y="238.4"/>
<use href="#aR" x="663.8" y="228.5"/>
<use href="#aR" x="691.4" y="279.9"/>
<use href="#aR" x="719.1" y="331.4"/>
<use href="#aY" x="666.3" y="270.1"/>
<use href="#aB" x="686.4" y="342"/>
<use href="#aR" x="641.2" y="260.2"/>
<use href="#aY" x="643.7" y="301.7"/>
<use href="#aR" x="618.6" y="291.8"/>
<use href="#aR" x="646.2" y="343.2"/>
<use href="#aR" x="728.2" y="266.3"/>
<use href="#aR" x="755.8" y="317.7"/>
<use href="#aY" x="703.1" y="256.4"/>
<use href="#aR" x="678" y="246.5"/>
<use href="#aR" x="705.6" y="297.9"/>
<use href="#aY" x="680.5" y="288"/>
<use href="#aR" x="655.4" y="278.2"/>
<use href="#aR" x="683" y="329.6"/>
<use href="#aY" x="657.9" y="319.7"/>
<use href="#aR" x="632.8" y="309.8"/>
<use href="#aR" x="742.4" y="284.2"/>
<use href="#aY" x="717.3" y="274.4"/>
<use href="#aR" x="692.1" y="264.5"/>
<use href="#aR" x="719.8" y="315.9"/>
<use href="#aY" x="694.6" y="306"/>
<use href="#aY" x="672" y="337.7"/>
<use href="#aR" x="646.9" y="327.8"/>
<use href="#aR" x="756.5" y="302.2"/>
<use href="#aY" x="731.4" y="292.4"/>
<use href="#aR" x="678.7" y="231.1"/>
<use href="#aR" x="706.3" y="282.5"/>
<use href="#aY" x="708.8" y="324"/>
<use href="#aR" x="656.1" y="262.7"/>
<use href="#aR" x="683.7" y="314.1"/>
<use href="#aR" x="633.5" y="294.4"/>
<use href="#aR" x="661.1" y="345.8"/>
<use href="#aY" x="745.6" y="310.3"/>
<use href="#aR" x="692.8" y="249.1"/>
<use href="#aR" x="720.5" y="300.5"/>
<use href="#aY" x="667.7" y="239.2"/>
<use href="#aR" x="670.2" y="280.7"/>
<use href="#aR" x="697.8" y="332.1"/>
<use href="#aY" x="645.1" y="270.8"/>
<use href="#aR" x="647.6" y="312.4"/>
<use href="#aY" x="622.5" y="302.5"/>
<use href="#aB" x="633.3" y="267"/>
<use href="#aR" x="707" y="267"/>
<use href="#aR" x="734.6" y="318.4"/>
<use href="#aY" x="681.9" y="257.2"/>
<use href="#aR" x="656.8" y="247.3"/>
<use href="#aR" x="684.4" y="298.7"/>
<use href="#aY" x="659.3" y="288.8"/>
<use href="#aR" x="634.2" y="278.9"/>
<use href="#aR" x="661.8" y="330.4"/>
<use href="#aY" x="636.7" y="320.5"/>
<use href="#aR" x="721.2" y="285"/>
<use href="#aY" x="696" y="275.1"/>
<use href="#aR" x="670.9" y="265.3"/>
<use href="#aR" x="698.5" y="316.7"/>
<use href="#aY" x="673.4" y="306.8"/>
<use href="#aR" x="648.3" y="296.9"/>
<use href="#aY" x="650.8" y="338.5"/>
<use href="#aB" x="710.6" y="276.9"/>
<use href="#aR" x="735.3" y="303"/>
<use href="#aY" x="710.2" y="293.1"/>
<use href="#aR" x="685.1" y="283.2"/>
<use href="#aY" x="687.6" y="324.8"/>
<use href="#aR" x="662.5" y="314.9"/>
<use href="#aY" x="724.4" y="311.1"/>
<use href="#aR" x="671.6" y="249.8"/>
<use href="#aR" x="699.2" y="301.2"/>
<use href="#aR" x="649" y="281.5"/>
<use href="#aR" x="676.6" y="332.9"/>
<use href="#aR" x="626.4" y="313.1"/>
<use href="#aR" x="685.8" y="267.8"/>
<use href="#aR" x="713.4" y="319.2"/>
<use href="#aY" x="660.7" y="257.9"/>
<use href="#aR" x="663.2" y="299.5"/>
<use href="#aY" x="638.1" y="289.6"/>
<use href="#aR" x="640.6" y="331.1"/>
<use href="#aR" x="699.9" y="285.8"/>
<use href="#aY" x="674.8" y="275.9"/>
<use href="#aB" x="627.3" y="282.5"/>
<use href="#aR" x="649.7" y="266"/>
<use href="#aR" x="677.3" y="317.4"/>
<use href="#aY" x="652.2" y="307.6"/>
<use href="#aR" x="627.1" y="297.7"/>
<use href="#aR" x="714.1" y="303.8"/>
<use href="#aY" x="689" y="293.9"/>
<use href="#aR" x="663.9" y="284"/>
<use href="#aY" x="666.4" y="325.6"/>
<use href="#aR" x="641.3" y="315.7"/>
<use href="#aY" x="703.1" y="311.9"/>
<use href="#aR" x="678" y="302"/>
<use href="#aR" x="655.4" y="333.7"/>
<use href="#aR" x="664.6" y="268.6"/>
<use href="#aR" x="692.2" y="320"/>
<use href="#aR" x="642" y="300.2"/>
<use href="#aR" x="678.7" y="286.6"/>
<use href="#aY" x="653.6" y="276.7"/>
<use href="#aR" x="656.1" y="318.2"/>
<use href="#aY" x="631" y="308.3"/>
<use href="#aR" x="692.9" y="304.6"/>
<use href="#aY" x="667.8" y="294.7"/>
<use href="#aR" x="642.7" y="284.8"/>
<use href="#aY" x="645.2" y="326.3"/>
<use href="#aY" x="681.9" y="312.7"/>
<use href="#aR" x="656.8" y="302.8"/>
<use href="#aR" x="671" y="320.8"/>
<use href="#aR" x="657.5" y="287.3"/>
<use href="#aR" x="634.9" y="319"/>
<use href="#aR" x="671.7" y="305.3"/>
<use href="#aY" x="646.6" y="295.4"/>
<use href="#aY" x="660.7" y="313.4"/>
<use href="#aR" x="635.6" y="303.6"/>
<use href="#aR" x="649.8" y="321.5"/>
<use href="#aR" x="650.5" y="306.1"/>
<path d="M682 155.7L554.9 273.9M682 155.7L809 306M682 155.7L627.2 320.7M554.9 273.9L627.2 320.7M809 306L627.2 320.7M554.9 273.9L679.3 424.6M627.2 320.7L679.3 424.6M809 306L679.3 424.6" stroke="#9a9595" stroke-width="3.4" fill="none" stroke-linecap="round" stroke-opacity="0.95"/>
<circle cx="682" cy="155.7" r="3.6" fill="#a09b9b"/>
<circle cx="679.3" cy="424.6" r="3.6" fill="#a09b9b"/>
<circle cx="554.9" cy="273.9" r="3.6" fill="#a09b9b"/>
<circle cx="809" cy="306" r="3.6" fill="#a09b9b"/>
<circle cx="627.2" cy="320.7" r="3.6" fill="#a09b9b"/>
</g>
<g id="cube">
<path d="M619.5 541.4L765.3 540.4M765.3 540.4L763.4 668.4M619.5 541.4L618.5 668M618.5 668L763.4 668.4" stroke="#949191" stroke-width="4.4" fill="none" stroke-linecap="round"/>
<path d="M763.4 668.4L776.6 745.3M618.5 668L602.4 749.6" stroke="#949191" stroke-width="5" fill="none" stroke-linecap="round"/>
<path d="M613 594.5L751.5 594.5L750.6 714.5L626.6 714.5Z" fill="#a51a16"/>
<use href="#cR" transform="translate(637 565.5) scale(0.78)"/>
<use href="#cR" transform="translate(652.5 565.4) scale(0.78)"/>
<use href="#cR" transform="translate(668 565.2) scale(0.78)"/>
<use href="#cR" transform="translate(683.5 565.1) scale(0.78)"/>
<use href="#cR" transform="translate(699 564.9) scale(0.78)"/>
<use href="#cR" transform="translate(714.5 564.8) scale(0.78)"/>
<use href="#cR" transform="translate(730 564.6) scale(0.78)"/>
<use href="#cR" transform="translate(745.5 564.5) scale(0.78)"/>
<use href="#cR" transform="translate(632.2 571.3) scale(0.81)"/>
<use href="#cR" transform="translate(648.6 571.2) scale(0.81)"/>
<use href="#cR" transform="translate(664.9 571.1) scale(0.81)"/>
<use href="#cR" transform="translate(681.3 571) scale(0.81)"/>
<use href="#cR" transform="translate(697.6 570.8) scale(0.81)"/>
<use href="#cR" transform="translate(714 570.7) scale(0.81)"/>
<use href="#cR" transform="translate(730.3 570.6) scale(0.81)"/>
<use href="#cR" transform="translate(746.7 570.5) scale(0.81)"/>
<use href="#cR" transform="translate(627.4 577.1) scale(0.85)"/>
<use href="#cR" transform="translate(644.6 577) scale(0.85)"/>
<use href="#cR" transform="translate(661.8 576.9) scale(0.85)"/>
<use href="#cR" transform="translate(679 576.8) scale(0.85)"/>
<use href="#cR" transform="translate(696.3 576.8) scale(0.85)"/>
<use href="#cR" transform="translate(713.5 576.7) scale(0.85)"/>
<use href="#cR" transform="translate(730.7 576.6) scale(0.85)"/>
<use href="#cR" transform="translate(747.9 576.5) scale(0.85)"/>
<use href="#cR" transform="translate(622.6 582.9) scale(0.88)"/>
<use href="#cR" transform="translate(640.7 582.8) scale(0.88)"/>
<use href="#cR" transform="translate(658.7 582.8) scale(0.88)"/>
<use href="#cR" transform="translate(676.8 582.7) scale(0.88)"/>
<use href="#cR" transform="translate(694.9 582.7) scale(0.88)"/>
<use href="#cR" transform="translate(713 582.6) scale(0.88)"/>
<use href="#cR" transform="translate(731 582.6) scale(0.88)"/>
<use href="#cR" transform="translate(749.1 582.5) scale(0.88)"/>
<use href="#cR" transform="translate(617.8 588.7) scale(0.92)"/>
<use href="#cR" transform="translate(636.7 588.7) scale(0.92)"/>
<use href="#cR" transform="translate(655.7 588.6) scale(0.92)"/>
<use href="#cR" transform="translate(674.6 588.6) scale(0.92)"/>
<use href="#cR" transform="translate(693.5 588.6) scale(0.92)"/>
<use href="#cR" transform="translate(712.4 588.6) scale(0.92)"/>
<use href="#cR" transform="translate(731.4 588.5) scale(0.92)"/>
<use href="#cR" transform="translate(750.3 588.5) scale(0.92)"/>
<circle cx="643.5" cy="604.1" r="5.6" fill="#f3dc3a"/>
<circle cx="682.8" cy="604.1" r="5.6" fill="#f3dc3a"/>
<circle cx="722" cy="604.1" r="5.6" fill="#f3dc3a"/>
<circle cx="625.9" cy="623" r="5.6" fill="#f3dc3a"/>
<circle cx="664.5" cy="623" r="5.6" fill="#f3dc3a"/>
<circle cx="703.1" cy="623" r="5.6" fill="#f3dc3a"/>
<circle cx="741.6" cy="623" r="5.6" fill="#f3dc3a"/>
<circle cx="646.8" cy="641.1" r="5.6" fill="#f3dc3a"/>
<circle cx="684.7" cy="641.1" r="5.6" fill="#f3dc3a"/>
<circle cx="722.7" cy="641.1" r="5.6" fill="#f3dc3a"/>
<circle cx="629.6" cy="658.5" r="5.6" fill="#f3dc3a"/>
<circle cx="667" cy="658.5" r="5.6" fill="#f3dc3a"/>
<circle cx="704.3" cy="658.5" r="5.6" fill="#f3dc3a"/>
<circle cx="741.7" cy="658.5" r="5.6" fill="#f3dc3a"/>
<circle cx="649.7" cy="675.3" r="5.6" fill="#f3dc3a"/>
<circle cx="686.5" cy="675.3" r="5.6" fill="#f3dc3a"/>
<circle cx="723.3" cy="675.3" r="5.6" fill="#f3dc3a"/>
<circle cx="633" cy="691.4" r="5.6" fill="#f3dc3a"/>
<circle cx="669.3" cy="691.4" r="5.6" fill="#f3dc3a"/>
<circle cx="705.5" cy="691.4" r="5.6" fill="#f3dc3a"/>
<circle cx="741.7" cy="691.4" r="5.6" fill="#f3dc3a"/>
<circle cx="652.5" cy="706.9" r="5.6" fill="#f3dc3a"/>
<circle cx="688.2" cy="706.9" r="5.6" fill="#f3dc3a"/>
<circle cx="723.9" cy="706.9" r="5.6" fill="#f3dc3a"/>
<use href="#cR" transform="translate(613 594.5) scale(0.940)"/>
<use href="#cR" transform="translate(632.8 594.3) scale(0.940)"/>
<use href="#cR" transform="translate(652.6 594.1) scale(0.940)"/>
<use href="#cR" transform="translate(672.4 593.9) scale(0.940)"/>
<use href="#cR" transform="translate(692.1 593.7) scale(0.940)"/>
<use href="#cR" transform="translate(711.9 593.5) scale(0.940)"/>
<use href="#cR" transform="translate(731.7 593.3) scale(0.940)"/>
<use href="#cR" transform="translate(751.5 593.1) scale(0.940)"/>
<use href="#cR" transform="translate(615.2 613.7) scale(0.913)"/>
<use href="#cR" transform="translate(634.6 613.5) scale(0.913)"/>
<use href="#cR" transform="translate(654.1 613.3) scale(0.913)"/>
<use href="#cR" transform="translate(673.5 613.1) scale(0.913)"/>
<use href="#cR" transform="translate(693 612.9) scale(0.913)"/>
<use href="#cR" transform="translate(712.4 612.7) scale(0.913)"/>
<use href="#cR" transform="translate(731.9 612.5) scale(0.913)"/>
<use href="#cR" transform="translate(751.4 612.3) scale(0.913)"/>
<use href="#cR" transform="translate(617.3 632.2) scale(0.887)"/>
<use href="#cR" transform="translate(636.4 632) scale(0.887)"/>
<use href="#cR" transform="translate(655.5 631.8) scale(0.887)"/>
<use href="#cR" transform="translate(674.7 631.6) scale(0.887)"/>
<use href="#cR" transform="translate(693.8 631.4) scale(0.887)"/>
<use href="#cR" transform="translate(712.9 631.2) scale(0.887)"/>
<use href="#cR" transform="translate(732.1 631) scale(0.887)"/>
<use href="#cR" transform="translate(751.2 630.8) scale(0.887)"/>
<use href="#cR" transform="translate(619.3 650) scale(0.861)"/>
<use href="#cR" transform="translate(638.1 649.8) scale(0.861)"/>
<use href="#cR" transform="translate(656.9 649.6) scale(0.861)"/>
<use href="#cR" transform="translate(675.8 649.4) scale(0.861)"/>
<use href="#cR" transform="translate(694.6 649.2) scale(0.861)"/>
<use href="#cR" transform="translate(713.4 649) scale(0.861)"/>
<use href="#cR" transform="translate(732.3 648.8) scale(0.861)"/>
<use href="#cR" transform="translate(751.1 648.6) scale(0.861)"/>
<use href="#cR" transform="translate(621.2 667.1) scale(0.837)"/>
<use href="#cR" transform="translate(639.8 666.9) scale(0.837)"/>
<use href="#cR" transform="translate(658.3 666.7) scale(0.837)"/>
<use href="#cR" transform="translate(676.8 666.5) scale(0.837)"/>
<use href="#cR" transform="translate(695.4 666.3) scale(0.837)"/>
<use href="#cR" transform="translate(713.9 666.1) scale(0.837)"/>
<use href="#cR" transform="translate(732.4 665.9) scale(0.837)"/>
<use href="#cR" transform="translate(751 665.7) scale(0.837)"/>
<use href="#cR" transform="translate(623.1 683.5) scale(0.814)"/>
<use href="#cR" transform="translate(641.3 683.3) scale(0.814)"/>
<use href="#cR" transform="translate(659.6 683.1) scale(0.814)"/>
<use href="#cR" transform="translate(677.8 682.9) scale(0.814)"/>
<use href="#cR" transform="translate(696.1 682.7) scale(0.814)"/>
<use href="#cR" transform="translate(714.3 682.5) scale(0.814)"/>
<use href="#cR" transform="translate(732.6 682.3) scale(0.814)"/>
<use href="#cR" transform="translate(750.8 682.1) scale(0.814)"/>
<use href="#cR" transform="translate(624.9 699.2) scale(0.792)"/>
<use href="#cR" transform="translate(642.8 699) scale(0.792)"/>
<use href="#cR" transform="translate(660.8 698.8) scale(0.792)"/>
<use href="#cR" transform="translate(678.8 698.6) scale(0.792)"/>
<use href="#cR" transform="translate(696.8 698.4) scale(0.792)"/>
<use href="#cR" transform="translate(714.8 698.2) scale(0.792)"/>
<use href="#cR" transform="translate(732.7 698) scale(0.792)"/>
<use href="#cR" transform="translate(750.7 697.8) scale(0.792)"/>
<use href="#cR" transform="translate(626.6 714.5) scale(0.770)"/>
<use href="#cR" transform="translate(644.3 714.3) scale(0.770)"/>
<use href="#cR" transform="translate(662 714.1) scale(0.770)"/>
<use href="#cR" transform="translate(679.7 713.9) scale(0.770)"/>
<use href="#cR" transform="translate(697.5 713.7) scale(0.770)"/>
<use href="#cR" transform="translate(715.2 713.5) scale(0.770)"/>
<use href="#cR" transform="translate(732.9 713.3) scale(0.770)"/>
<use href="#cR" transform="translate(750.6 713.1) scale(0.770)"/>
<use href="#cB" x="756.5" y="597"/>
<use href="#cB" x="732.8" y="593.5"/>
<use href="#cB" x="752.6" y="593.5"/>
<use href="#cB" x="738.9" y="607.7"/>
<use href="#cB" x="757.5" y="608.3"/>
<use href="#cB" x="743.3" y="620.7"/>
<use href="#cB" x="757.5" y="622.6"/>
<path d="M574.3 581L781.6 577.4M781.6 577.4L776.6 745.3M602.4 749.6L574.3 581" stroke="#949191" stroke-width="6.4" fill="none" stroke-linecap="round" stroke-linejoin="round"/>
<path d="M776.6 745.3L602.4 749.6M574.3 581L619.5 541.4M781.6 577.4L765.3 540.4" stroke="#949191" stroke-width="5.6" fill="none" stroke-linecap="round" stroke-linejoin="round"/>
<circle cx="574.3" cy="581" r="4.2" fill="#999696"/>
<circle cx="781.6" cy="577.4" r="4.2" fill="#999696"/>
<circle cx="602.4" cy="749.6" r="4" fill="#999696"/>
<circle cx="776.6" cy="745.3" r="4" fill="#999696"/>
<circle cx="619.5" cy="541.4" r="3.4" fill="#999696"/>
<circle cx="765.3" cy="540.4" r="3.4" fill="#999696"/>
</g>
<g id="mol">
<path d="M902.8 222.3L928.3 253" stroke="#3fb9c4" stroke-width="7" stroke-linecap="butt" fill="none"/>
<circle cx="902.8" cy="222.3" r="15.6" fill="url(#gT)"/>
<circle cx="928.3" cy="253" r="15.6" fill="url(#gT)"/>
<path d="M931 621L960.3 610.3" stroke="#3fb9c4" stroke-width="7" stroke-linecap="butt" fill="none"/>
<circle cx="931" cy="621" r="14.8" fill="url(#gT)"/>
<circle cx="960.3" cy="610.3" r="14.8" fill="url(#gT)"/>
<circle cx="894.1" cy="490.9" r="14.2" fill="url(#gH)"/>
<path d="M883.6 477.8L894.1 490.9" stroke="#ebebeb" stroke-width="6.5" stroke-linecap="butt" fill="none"/>
<path d="M870.7 461.5L883.6 477.8" stroke="#242424" stroke-width="6.5" stroke-linecap="butt" fill="none"/>
<path d="M899.4 366.3L886.3 341.8" stroke="#ebebeb" stroke-width="6.8" stroke-linecap="butt" fill="none"/>
<path d="M914.4 394.6L899.4 366.3" stroke="#242424" stroke-width="6.8" stroke-linecap="butt" fill="none"/>
<path d="M1002.3 370.4L1015.9 347.2" stroke="#ebebeb" stroke-width="6.8" stroke-linecap="butt" fill="none"/>
<path d="M986.5 397.2L1002.3 370.4" stroke="#242424" stroke-width="6.8" stroke-linecap="butt" fill="none"/>
<path d="M1001.1 425.8L1013.8 450.6" stroke="#ebebeb" stroke-width="6.8" stroke-linecap="butt" fill="none"/>
<path d="M986.5 397.2L1001.1 425.8" stroke="#242424" stroke-width="6.8" stroke-linecap="butt" fill="none"/>
<path d="M839.3 454.9L812.1 449.2" stroke="#ebebeb" stroke-width="6.8" stroke-linecap="butt" fill="none"/>
<path d="M870.7 461.5L839.3 454.9" stroke="#242424" stroke-width="6.8" stroke-linecap="butt" fill="none"/>
<path d="M914.4 394.6L870.7 461.5" stroke="#242424" stroke-width="7.4" stroke-linecap="butt" fill="none"/>
<path d="M914.3 398.2L986.4 400.8" stroke="#242424" stroke-width="3.7" stroke-linecap="butt" fill="none"/>
<path d="M914.5 391L986.6 393.6" stroke="#242424" stroke-width="3.7" stroke-linecap="butt" fill="none"/>
<circle cx="886.3" cy="341.8" r="15.1" fill="url(#gH)"/>
<circle cx="1015.9" cy="347.2" r="14.7" fill="url(#gH)"/>
<circle cx="1013.8" cy="450.6" r="14.4" fill="url(#gH)"/>
<circle cx="812.1" cy="449.2" r="14.8" fill="url(#gH)"/>
<circle cx="914.4" cy="394.6" r="18.9" fill="url(#gC)"/>
<circle cx="986.5" cy="397.2" r="19.3" fill="url(#gC)"/>
<circle cx="870.7" cy="461.5" r="18.8" fill="url(#gC)"/>
<path d="M873.3 483.5L875.4 501.3" stroke="#ebebeb" stroke-width="6.5" stroke-linecap="butt" fill="none"/>
<path d="M872.8 479.4L873.3 483.5" stroke="#1c1c1c" stroke-width="6.5" stroke-linecap="butt" fill="none"/>
<circle cx="875.4" cy="501.3" r="14.7" fill="url(#gH)"/>
<path d="M1167.7 399.9L1148.6 386.3" stroke="#ebebeb" stroke-width="6.8" stroke-linecap="butt" fill="none"/>
<path d="M1189.8 415.5L1167.7 399.9" stroke="#242424" stroke-width="6.8" stroke-linecap="butt" fill="none"/>
<path d="M1177.3 443.9L1166.3 469.1" stroke="#ebebeb" stroke-width="6.8" stroke-linecap="butt" fill="none"/>
<path d="M1189.8 415.5L1177.3 443.9" stroke="#242424" stroke-width="6.8" stroke-linecap="butt" fill="none"/>
<path d="M1283.5 444.6L1302.2 457.9" stroke="#45bec8" stroke-width="6.8" stroke-linecap="butt" fill="none"/>
<path d="M1261.9 429.2L1283.5 444.6" stroke="#242424" stroke-width="6.8" stroke-linecap="butt" fill="none"/>
<path d="M1272.1 339.4L1253.3 325.9" stroke="#45bec8" stroke-width="6.8" stroke-linecap="butt" fill="none"/>
<path d="M1293.9 355.1L1272.1 339.4" stroke="#242424" stroke-width="6.8" stroke-linecap="butt" fill="none"/>
<path d="M1322.2 360.4L1347 365" stroke="#ebebeb" stroke-width="6.8" stroke-linecap="butt" fill="none"/>
<path d="M1293.9 355.1L1322.2 360.4" stroke="#242424" stroke-width="6.8" stroke-linecap="butt" fill="none"/>
<path d="M1189.8 415.5L1261.9 429.2" stroke="#242424" stroke-width="7.4" stroke-linecap="butt" fill="none"/>
<path d="M1261.9 429.2L1293.9 355.1" stroke="#242424" stroke-width="7.4" stroke-linecap="butt" fill="none"/>
<circle cx="1148.6" cy="386.3" r="15.4" fill="url(#gH)"/>
<circle cx="1166.3" cy="469.1" r="15.4" fill="url(#gH)"/>
<circle cx="1347" cy="365" r="15.4" fill="url(#gH)"/>
<circle cx="1302.2" cy="457.9" r="15.6" fill="url(#gT)"/>
<circle cx="1253.3" cy="325.9" r="15.6" fill="url(#gT)"/>
<circle cx="1189.8" cy="415.5" r="19.1" fill="url(#gC)"/>
<circle cx="1261.9" cy="429.2" r="19" fill="url(#gC)"/>
<circle cx="1293.9" cy="355.1" r="19.5" fill="url(#gC)"/>
<path d="M1196.4 396L1202 379.8" stroke="#ebebeb" stroke-width="6.5" stroke-linecap="butt" fill="none"/>
<path d="M1195.9 397.6L1196.4 396" stroke="#1a1a1a" stroke-width="6.5" stroke-linecap="butt" fill="none"/>
<circle cx="1202" cy="379.8" r="15.6" fill="url(#gH)"/>
<path d="M1300.5 335.5L1306.1 319.2" stroke="#ebebeb" stroke-width="6.5" stroke-linecap="butt" fill="none"/>
<path d="M1300 337.1L1300.5 335.5" stroke="#1a1a1a" stroke-width="6.5" stroke-linecap="butt" fill="none"/>
<circle cx="1306.1" cy="319.2" r="15.6" fill="url(#gH)"/>
<path d="M1254.7 448.1L1248.8 463.9" stroke="#ebebeb" stroke-width="6.5" stroke-linecap="butt" fill="none"/>
<path d="M1255.3 446.5L1254.7 448.1" stroke="#1a1a1a" stroke-width="6.5" stroke-linecap="butt" fill="none"/>
<circle cx="1248.8" cy="463.9" r="15.6" fill="url(#gH)"/>
</g>
<g id="nmr">
<path d="M986.7 218.1L992.7 219L998.7 219.9L1004.7 220.8L1010.7 221.8L1016.7 222.7L1022.7 223.6L1028.7 224.5L1034.7 225.3L1036.2 225.5L1037.7 225.7L1039.2 225.9L1040.7 226.1L1042.2 226.3L1043.7 226.5L1045.2 226.6L1046.7 226.8L1048.2 226.9L1049.7 227L1051.2 227L1051.8 227L1052.4 226.9L1053 226.9L1053.6 226.8L1054.2 226.7L1054.8 226.6L1055.4 226.4L1056 226.1L1056.6 225.8L1057.2 225.4L1057.8 224.9L1058.4 224.2L1059 223.4L1059.6 222.2L1060.2 220.8L1060.8 219L1061.4 216.8L1062 214.2L1062.6 211.8L1063.2 210L1063.8 209.6L1064.4 210.7L1065 213L1065.6 215.7L1066.2 218.3L1066.8 220.6L1067.4 222.5L1068 224L1068.6 225.2L1069.2 226.2L1069.8 227L1070.4 227.6L1071 228.2L1071.6 228.7L1072.2 229.1L1072.8 229.4L1073.4 229.7L1074 230L1074.6 230.3L1075.2 230.5L1075.8 230.7L1076.4 230.9L1077 231.1L1077.6 231.3L1078.2 231.4L1079.7 231.8L1081.2 232.2L1082.7 232.5L1084.2 232.8L1085.7 233.1L1087.2 233.3L1088.7 233.6L1090.2 233.9L1091.7 234.1L1093.2 234.4L1094.7 234.6L1096.2 234.9L1097.7 235.1L1099.2 235.4L1100.7 235.6L1102.2 235.9L1103.7 236.1L1105.2 236.4L1106.7 236.6L1108.2 236.9L1108.8 237L1109.4 237.1L1110 237.2L1110.6 237.2L1111.2 237.3L1111.8 237.4L1112.4 237.5L1113 237.6L1113.6 237.7L1114.2 237.8L1114.8 237.9L1115.4 238L1116 238.1L1116.6 238.2L1117.2 238.3L1117.8 238.4L1118.4 238.4L1119 238.4L1119.6 238.3L1120.2 238.4L1120.8 238.9L1121.4 240L1122 241.5L1122.6 243.4L1123.2 244.9L1123.8 244.8L1124.4 243.4L1125 242.2L1125.6 241.4L1126.2 240.9L1126.8 240.7L1127.4 240.5L1128 240.5L1128.6 240.4L1129.2 240.5L1129.8 240.5L1130.4 240.5L1131 240.6L1131.6 240.7L1132.2 240.7L1132.8 240.8L1133.4 240.9L1134 241L1134.6 241.1L1135.2 241.1L1135.8 241.2L1136.4 241.3L1137.9 241.5L1139.4 241.8L1140.9 242L1142.4 242.2L1143.9 242.4L1145.4 242.7L1146.9 242.9L1148.4 243.1L1149.9 243.4L1151.4 243.6L1152.9 243.8L1158.9 244.8L1164.9 245.7L1170.9 246.6L1176.9 247.5L1182.9 248.5L1188.9 249.4L1194.9 250.3L1200.9 251.3L1206.9 252.2L1212.9 253.1L1218.9 254L1224.9 255L1230.9 255.9L1236.9 256.8L1242.9 257.7L1248.9 258.6L1254.9 259.6L1260.9 260.5L1266.9 261.4L1272.9 262.3L1278.9 263.2L1284.9 264.1L1290.9 265L1292.4 265.2L1293.9 265.4L1295.4 265.6L1296.9 265.8L1298.4 266L1299.9 266.2L1301.4 266.5L1302.9 266.7L1304.4 266.9L1305.9 267.2L1307.4 267.4L1308 267.5L1308.6 267.6L1309.2 267.8L1309.8 267.9L1310.4 268.1L1311 268.2L1311.6 268.4L1312.2 268.7L1312.8 268.9L1313.4 269.3L1314 269.7L1314.6 270.2L1315.2 270.8L1315.8 271.6L1316.4 272.7L1317 274.2L1317.6 276.2L1318.2 278.8L1318.8 282L1319.4 285.5L1320 288.1L1320.6 288.4L1321.2 286.1L1321.8 282.4L1322.4 278.6L1323 275.4L1323.6 272.8L1324.2 270.7L1324.8 269L1325.4 267.5L1326 266.1L1326.6 264.8L1327.2 263.4L1327.8 262L1328.4 260.5L1329 258.8L1329.6 256.8L1330.2 254.5L1330.8 251.7L1331.4 248.4L1332 244.3L1332.6 239.2L1333.2 232.8L1333.8 224.8L1334.4 214.6L1335 201.8L1335.6 186L1336.2 167.4L1336.8 159.6L1337.4 159.6L1338 159.6L1338.6 159.6L1339.2 159.6L1339.8 159.6L1340.4 174.8L1341 192.8L1341.6 207.9L1342.2 220L1342.8 229.7L1343.4 237.4L1344 243.5L1344.6 248.5L1345.2 252.6L1345.8 256L1346.4 258.9L1347 261.4L1347.6 263.6L1348.2 265.5L1348.8 267.3L1349.4 268.9L1350 270.4L1350.6 271.8L1351.2 273.1L1351.8 274.4L1352.4 275.7L1353.9 279L1354.5 280.4L1355.1 281.8L1355.7 283.3L1356.3 285L1356.9 286.8L1357.5 288.7L1358.1 291L1358.7 293.6L1359.3 296.6L1359.9 300.1L1360.5 304.4L1361.1 309.6L1361.7 316L1362.3 324.1L1362.9 334.2L1363.5 347L1364.1 362.7L1364.7 381.2L1365.3 400.7L1365.9 417.1L1366.5 425.2L1367.1 421.4L1367.7 407.7L1368.3 389.2L1368.9 370.7L1369.5 354.5L1370.1 341.3L1370.7 330.9L1371.3 322.7L1371.9 316.3L1372.5 311.3L1373.1 307.3L1373.7 304L1374.3 301.4L1374.9 299.3L1375.5 297.5L1376.1 296L1376.7 294.7L1377.3 293.6L1377.9 292.7L1378.5 291.9L1379.1 291.2L1379.7 290.6L1380.3 290L1380.9 289.6L1382.4 288.6L1383.9 287.9L1385.4 287.4L1386.9 286.9L1388.4 286.6L1389.9 286.3L1391.4 286.1L1392.9 285.9L1394.4 285.7L1395.9 285.6L1397.4 285.5L1403.4 285.2L1409.4 285L1415.4 284.9L1421.4 284.8" fill="none" stroke="#1d4396" stroke-width="3.2" stroke-linejoin="round" stroke-linecap="round"/>
<path d="M978.3 522.8L1020 529L1047 533L1051 532.6L1054.4 529.6L1057.5 534L1061 535.3L1100 541.2L1200 556.2L1290 569.6L1306 572.2L1309 574.2L1312 576.3L1315 574L1320 573.3L1324 571L1328.4 566.4L1331.5 571L1335 574.6L1345 578.6L1352 581.6L1355 584.5L1357.7 591.5L1360 585L1363 582.6L1375 583.2L1395 586L1412.9 588.5" fill="none" stroke="#e6842a" stroke-width="3.3" stroke-linejoin="round" stroke-linecap="round"/>
<path d="M978.3 621.8L1412.9 687.2M978.3 622.6v-12.4M1009.3 627.3v-6.6M1040.4 631.9v-12.4M1071.4 636.6v-6.6M1102.5 641.3v-12.4M1133.5 646v-6.6M1164.6 650.6v-12.4M1195.6 655.3v-6.6M1226.6 660v-12.4M1257.7 664.6v-6.6M1288.7 669.3v-12.4M1319.8 674v-6.6M1350.8 678.7v-12.4M1381.9 683.3v-6.6M1412.9 688v-12.4" fill="none" stroke="#000" stroke-width="2.2"/>
<text transform="translate(978.5 666.6) skewY(8.6)" font-size="39.2" text-anchor="middle" style="fill:#000" textLength="20.5" lengthAdjust="spacingAndGlyphs">7</text>
<text transform="translate(1040.6 675.9) skewY(8.6)" font-size="39.2" text-anchor="middle" style="fill:#000" textLength="20.5" lengthAdjust="spacingAndGlyphs">6</text>
<text transform="translate(1102.7 685.3) skewY(8.6)" font-size="39.2" text-anchor="middle" style="fill:#000" textLength="20.5" lengthAdjust="spacingAndGlyphs">5</text>
<text transform="translate(1164.8 694.6) skewY(8.6)" font-size="39.2" text-anchor="middle" style="fill:#000" textLength="20.5" lengthAdjust="spacingAndGlyphs">4</text>
<text transform="translate(1226.8 704) skewY(8.6)" font-size="39.2" text-anchor="middle" style="fill:#000" textLength="20.5" lengthAdjust="spacingAndGlyphs">3</text>
<text transform="translate(1288.9 713.3) skewY(8.6)" font-size="39.2" text-anchor="middle" style="fill:#000" textLength="20.5" lengthAdjust="spacingAndGlyphs">2</text>
<text transform="translate(1351 722.7) skewY(8.6)" font-size="39.2" text-anchor="middle" style="fill:#000" textLength="20.5" lengthAdjust="spacingAndGlyphs">1</text>
<text transform="translate(1413.1 732) skewY(8.6)" font-size="39.2" text-anchor="middle" style="fill:#000" textLength="20.5" lengthAdjust="spacingAndGlyphs">0</text>
<text transform="translate(1156.5 760.6) skewY(8.6)" font-size="39.6" style="fill:#000" textLength="80" lengthAdjust="spacingAndGlyphs">ppm</text>
</g>
<g id="arrows">
<path d="M243 321.7L244.5 322.4L246.4 323.3L248.7 324.4L251.3 325.6L254 326.8L257 328.2L260 329.6L263.1 330.9L266.1 332.2L269.1 333.4L272 334.5L274.9 335.6L277.9 336.8L281 337.9L284.1 339L287.3 340.1L290.5 341.2L293.8 342.2L297 343.2L300.3 344.1L303.6 345L307 345.8L310.4 346.6L313.9 347.3L317.4 348L320.8 348.7L324.3 349.3L327.8 349.8L331.2 350.4L334.6 350.8L338 351.3L341.3 351.7L344.5 352.1L347.8 352.5L351.1 352.8L354.4 353L357.7 353.2L361.1 353.3L364.6 353.4L368.1 353.3L371.7 353.2L375.4 353L379.1 352.7L382.9 352.4L386.7 352L390.6 351.5L394.4 351L398.2 350.4L401.9 349.8L405.6 349.1L409.3 348.4L413 347.5L416.7 346.6L420.4 345.6L424 344.6L427.6 343.5L431.1 342.4L434.5 341.3L437.9 340.2L441.1 339.2L444.2 338.1L447.2 337L450.1 335.8L453 334.7L455.7 333.6L458.4 332.4L461.1 331.3L463.8 330.1L466.5 328.9L469.2 327.7L472 326.4L474.9 325.1L477.7 323.8L480.6 322.5L483.4 321.1L486.2 319.8L488.9 318.5L491.6 317.2L494.1 316L496.6 314.8L499.1 313.6L501.6 312.4L504.1 311.1L506.5 309.9L508.9 308.8L511.1 307.7L513.1 306.6L514.9 305.8L516.5 305L517.7 304.4L514.3 297.6L513.1 298.2L511.5 299L509.7 299.9L507.7 301L505.5 302.1L503.2 303.3L500.8 304.5L498.3 305.8L495.8 307L493.4 308.2L490.9 309.4L488.4 310.7L485.7 312L483 313.4L480.3 314.7L477.5 316.1L474.7 317.4L471.9 318.8L469.1 320.1L466.4 321.3L463.7 322.5L461 323.8L458.3 325L455.7 326.1L453.1 327.3L450.4 328.4L447.6 329.6L444.8 330.7L441.9 331.8L438.9 332.8L435.7 333.9L432.5 335L429.1 336.2L425.7 337.3L422.2 338.3L418.6 339.4L415.1 340.3L411.5 341.3L407.9 342.1L404.4 342.9L400.8 343.6L397.2 344.2L393.5 344.8L389.7 345.4L386 345.8L382.3 346.3L378.6 346.6L375 346.9L371.4 347.1L367.9 347.3L364.5 347.3L361.2 347.3L358 347.3L354.7 347.1L351.5 346.9L348.4 346.6L345.2 346.3L341.9 346L338.7 345.6L335.4 345.2L332 344.7L328.6 344.2L325.2 343.7L321.8 343.1L318.4 342.5L315 341.9L311.6 341.2L308.2 340.5L304.9 339.7L301.7 338.9L298.5 338L295.3 337.1L292.1 336.1L289 335.1L285.9 334.1L282.8 333L279.7 331.9L276.7 330.8L273.8 329.7L270.9 328.6L268 327.5L265.1 326.3L262 325L259 323.6L256.1 322.3L253.3 321.1L250.8 319.9L248.5 318.9L246.5 318L245 317.3Z" fill="url(#ga1)"/>
<path d="M552.2 281.4L497.5 289.7L514 302L518.9 325.4Z" fill="#2f3336"/>
<path d="M770.2 231.2L772.6 230.5L775.6 229.7L779.2 228.7L783.2 227.6L787.5 226.4L792.1 225.1L796.8 223.9L801.5 222.6L806.1 221.4L810.6 220.4L815 219.3L819.4 218.3L824 217.2L828.6 216.2L833.3 215.2L838 214.2L842.7 213.2L847.5 212.2L852.3 211.3L857 210.3L861.8 209.4L866.6 208.5L871.4 207.6L876.3 206.6L881.1 205.7L886 204.9L890.9 204L895.7 203.2L900.6 202.5L905.4 201.7L910.2 201.1L915 200.4L919.8 199.8L924.6 199.2L929.4 198.6L934.1 198.1L938.9 197.6L943.7 197.2L948.4 196.8L953.2 196.4L958 196.1L962.9 195.9L967.8 195.6L972.7 195.4L977.7 195.3L982.5 195.2L987.3 195.1L992 195.1L996.6 195.1L1001 195.1L1005.2 195.2L1009.3 195.3L1013.2 195.4L1017 195.6L1020.7 195.8L1024.4 196L1028.2 196.3L1031.9 196.6L1035.8 196.9L1039.7 197.3L1043.8 197.7L1047.9 198.1L1052 198.5L1056.2 199L1060.4 199.6L1064.6 200.1L1068.8 200.7L1073 201.2L1077.1 201.8L1081.1 202.4L1085.1 203L1089.1 203.6L1093 204.3L1096.9 204.9L1100.8 205.6L1104.6 206.3L1108.4 207L1112.1 207.7L1115.8 208.4L1119.3 209.1L1122.9 209.8L1126.6 210.6L1130.3 211.4L1134 212.2L1137.6 213L1141 213.8L1144.1 214.6L1146.9 215.2L1149.3 215.8L1151.2 216.2L1152.8 208.8L1151 208.4L1148.6 207.9L1145.8 207.2L1142.6 206.5L1139.2 205.8L1135.6 205L1131.9 204.2L1128.1 203.4L1124.3 202.6L1120.7 201.9L1117.1 201.3L1113.4 200.6L1109.7 199.9L1105.9 199.3L1102 198.6L1098.1 198L1094.1 197.4L1090.1 196.7L1086.1 196.2L1082.1 195.6L1078 195L1073.9 194.5L1069.7 193.9L1065.5 193.4L1061.2 192.9L1057 192.4L1052.8 191.9L1048.5 191.5L1044.4 191.1L1040.3 190.7L1036.3 190.4L1032.4 190.1L1028.6 189.8L1024.8 189.6L1021.1 189.4L1017.3 189.2L1013.4 189.1L1009.4 189L1005.3 188.9L1001 188.9L996.6 188.9L992 188.9L987.2 189L982.4 189.1L977.5 189.3L972.5 189.4L967.5 189.7L962.6 189.9L957.7 190.2L952.8 190.6L948 191L943.1 191.4L938.3 191.9L933.5 192.4L928.7 193L923.9 193.6L919.1 194.2L914.3 194.8L909.4 195.5L904.6 196.3L899.7 197L894.9 197.8L890 198.7L885.1 199.6L880.2 200.5L875.3 201.4L870.4 202.4L865.6 203.3L860.8 204.3L856 205.3L851.2 206.2L846.5 207.2L841.7 208.2L836.9 209.3L832.2 210.3L827.5 211.4L822.9 212.4L818.3 213.5L813.8 214.6L809.4 215.6L804.9 216.8L800.3 218L795.5 219.3L790.8 220.6L786.3 221.9L781.9 223.1L777.9 224.3L774.4 225.3L771.4 226.2L769 226.8Z" fill="url(#ga2)"/>
<path d="M1187.8 221L1150.8 188.3L1155.5 213L1139.5 224.3Z" fill="#231f20"/>
<path d="M268.5 568.8L270.5 568L272.9 566.8L275.8 565.5L279.1 564L282.6 562.4L286.2 560.7L290 559L293.8 557.3L297.5 555.7L301 554.2L304.4 552.8L307.8 551.4L311.3 549.9L314.9 548.5L318.4 547.1L322 545.7L325.6 544.3L329.2 543L332.8 541.7L336.4 540.4L339.9 539.2L343.5 538.1L347.1 536.9L350.7 535.8L354.3 534.7L357.9 533.6L361.6 532.6L365.2 531.6L368.9 530.6L372.7 529.7L376.5 528.8L380.4 527.9L384.4 527L388.4 526.2L392.4 525.4L396.4 524.6L400.4 523.9L404.2 523.3L407.9 522.7L411.4 522.2L414.8 521.8L418 521.4L421.1 521.1L424.1 520.9L427 520.7L429.9 520.6L432.7 520.5L435.6 520.4L438.4 520.3L441.3 520.3L444.2 520.3L447.1 520.3L449.9 520.4L452.7 520.5L455.5 520.6L458.3 520.8L461.1 521L463.9 521.2L466.8 521.5L469.6 521.8L472.5 522.1L475.4 522.5L478.2 522.9L481 523.4L483.9 523.9L486.8 524.4L489.8 525L492.9 525.6L496.1 526.2L499.3 526.9L502.8 527.6L506.5 528.4L510.3 529.2L514.2 530L518.1 530.9L522 531.7L525.9 532.6L529.5 533.5L533 534.3L536.2 535L539.2 535.8L542.1 536.5L545 537.3L547.7 538.1L550.3 538.8L552.7 539.5L554.9 540.2L556.9 540.8L558.6 541.3L560 541.7L562 534.3L560.7 534L559 533.5L557 533L554.8 532.4L552.3 531.7L549.7 531L546.9 530.2L543.9 529.5L540.9 528.7L537.8 528L534.6 527.2L531.1 526.4L527.4 525.6L523.6 524.8L519.6 523.9L515.7 523.1L511.7 522.3L507.9 521.5L504.2 520.8L500.7 520.1L497.4 519.5L494.2 518.9L491.1 518.3L488 517.8L485.1 517.3L482.1 516.8L479.2 516.3L476.3 515.9L473.3 515.6L470.4 515.2L467.4 515L464.5 514.7L461.6 514.5L458.7 514.3L455.8 514.2L452.9 514.1L450 514.1L447.1 514L444.2 514L441.3 514.1L438.3 514.2L435.4 514.2L432.5 514.3L429.6 514.5L426.6 514.7L423.6 514.9L420.5 515.2L417.3 515.5L414 515.9L410.6 516.4L407 516.9L403.2 517.6L399.4 518.3L395.4 519L391.3 519.8L387.3 520.6L383.2 521.5L379.2 522.4L375.2 523.4L371.3 524.3L367.6 525.3L363.8 526.3L360.1 527.4L356.4 528.4L352.8 529.5L349.1 530.7L345.5 531.9L341.9 533.1L338.3 534.3L334.6 535.6L331 536.8L327.4 538.2L323.8 539.6L320.2 541L316.6 542.4L313 543.9L309.4 545.4L305.9 546.8L302.5 548.3L299 549.8L295.5 551.3L291.8 553L288.1 554.7L284.3 556.4L280.6 558.2L277.1 559.8L273.9 561.3L271 562.7L268.6 563.9L266.7 564.8Z" fill="url(#ga3)"/>
<path d="M592.3 553L562 516L562.5 537L543.2 549.2Z" fill="#231f20"/>
<path d="M817.8 665.2L819.7 665.4L822.2 665.6L825.1 666L828.4 666.3L832 666.7L835.7 667L839.5 667.4L843.1 667.7L846.6 668L849.8 668.3L852.8 668.5L855.7 668.7L858.5 668.9L861.3 669.1L864.1 669.2L866.8 669.3L869.5 669.5L872.3 669.6L875.1 669.7L877.9 669.8L880.8 670L883.6 670.1L886.5 670.2L889.4 670.3L892.3 670.4L895.2 670.5L898.1 670.6L901.1 670.6L904 670.7L907 670.7L909.9 670.8L912.9 670.8L915.9 670.9L918.9 670.9L921.9 670.9L924.9 671L927.9 671L930.9 670.9L933.9 670.9L936.9 670.9L939.8 670.8L942.8 670.7L945.7 670.6L948.6 670.5L951.6 670.4L954.5 670.3L957.4 670.1L960.3 670L963.3 669.8L966.2 669.6L969.2 669.4L972.1 669.2L975.1 669L978.1 668.7L981.1 668.5L984.1 668.2L987.1 667.9L990.1 667.6L993.1 667.2L996.1 666.8L999.1 666.3L1002.1 665.8L1005 665.2L1008 664.6L1011 664L1014 663.4L1016.9 662.7L1019.9 662L1022.8 661.3L1025.8 660.6L1028.7 659.9L1031.7 659.1L1034.7 658.3L1037.6 657.5L1040.5 656.7L1043.5 655.8L1046.4 655L1049.3 654.2L1052.3 653.3L1055.2 652.5L1058.2 651.7L1061.1 650.9L1064.1 650.1L1067.1 649.3L1070.1 648.4L1073.1 647.6L1076 646.8L1079 646L1082 645.1L1084.9 644.3L1087.9 643.5L1090.9 642.6L1093.9 641.7L1097 640.9L1100 640L1102.9 639.1L1105.8 638.3L1108.7 637.5L1111.4 636.7L1114 635.9L1116.5 635.2L1118.8 634.5L1121.1 633.9L1123.3 633.3L1125.4 632.7L1127.6 632.1L1129.7 631.5L1131.8 630.8L1133.9 630.2L1136.1 629.5L1138.4 628.8L1140.9 628L1143.5 627.1L1146.1 626.2L1148.6 625.4L1151 624.6L1153.3 623.8L1155.3 623.1L1156.9 622.5L1158.2 622.1L1155.8 614.9L1154.5 615.4L1152.8 616L1150.8 616.7L1148.6 617.5L1146.2 618.3L1143.6 619.2L1141.1 620.1L1138.6 620.9L1136.1 621.7L1133.9 622.5L1131.7 623.2L1129.6 623.8L1127.6 624.5L1125.5 625.1L1123.4 625.7L1121.3 626.3L1119.1 627L1116.9 627.6L1114.5 628.3L1112 629.1L1109.4 629.9L1106.7 630.7L1103.8 631.5L1100.9 632.4L1098 633.3L1095 634.2L1092 635.1L1089 635.9L1086 636.8L1083.1 637.7L1080.1 638.5L1077.2 639.4L1074.2 640.2L1071.2 641.1L1068.3 641.9L1065.3 642.7L1062.3 643.6L1059.3 644.4L1056.4 645.3L1053.4 646.1L1050.4 646.9L1047.5 647.8L1044.6 648.7L1041.6 649.5L1038.7 650.4L1035.8 651.2L1032.9 652.1L1030 652.9L1027.1 653.6L1024.2 654.4L1021.3 655.1L1018.4 655.8L1015.5 656.5L1012.6 657.2L1009.7 657.8L1006.7 658.5L1003.8 659.1L1000.9 659.6L998 660.2L995.1 660.6L992.2 661.1L989.3 661.5L986.4 661.8L983.5 662.1L980.5 662.4L977.6 662.7L974.6 662.9L971.7 663.2L968.7 663.4L965.8 663.6L962.9 663.8L960 664L957.1 664.2L954.2 664.4L951.3 664.6L948.4 664.7L945.5 664.8L942.6 664.9L939.7 665L936.7 665.1L933.8 665.2L930.8 665.3L927.9 665.3L924.9 665.3L921.9 665.3L918.9 665.3L915.9 665.3L912.9 665.3L910 665.3L907 665.3L904.1 665.2L901.2 665.2L898.3 665.1L895.4 665.1L892.5 665L889.6 664.9L886.7 664.8L883.8 664.8L881 664.7L878.1 664.6L875.3 664.5L872.5 664.4L869.8 664.3L867 664.2L864.3 664.1L861.6 663.9L858.8 663.8L856 663.7L853.1 663.5L850.2 663.3L847 663.1L843.6 662.8L839.9 662.5L836.2 662.1L832.5 661.8L828.9 661.4L825.6 661.1L822.7 660.8L820.2 660.6L818.2 660.4Z" fill="url(#ga4)"/>
<path d="M1195.3 605L1139.5 604.4L1158 618.5L1155 642.6Z" fill="#2f3336"/>
</g>
<g id="titles">
<text x="106" y="61.4" font-size="44.7">CO-DRIFTS</text>
<text x="552.3" y="61.4" font-size="44.7">Facet Effect</text>
<text x="990.7" y="61.4" font-size="44.7">NMR Enhancement</text>
</g>
</svg>
</body></html>
